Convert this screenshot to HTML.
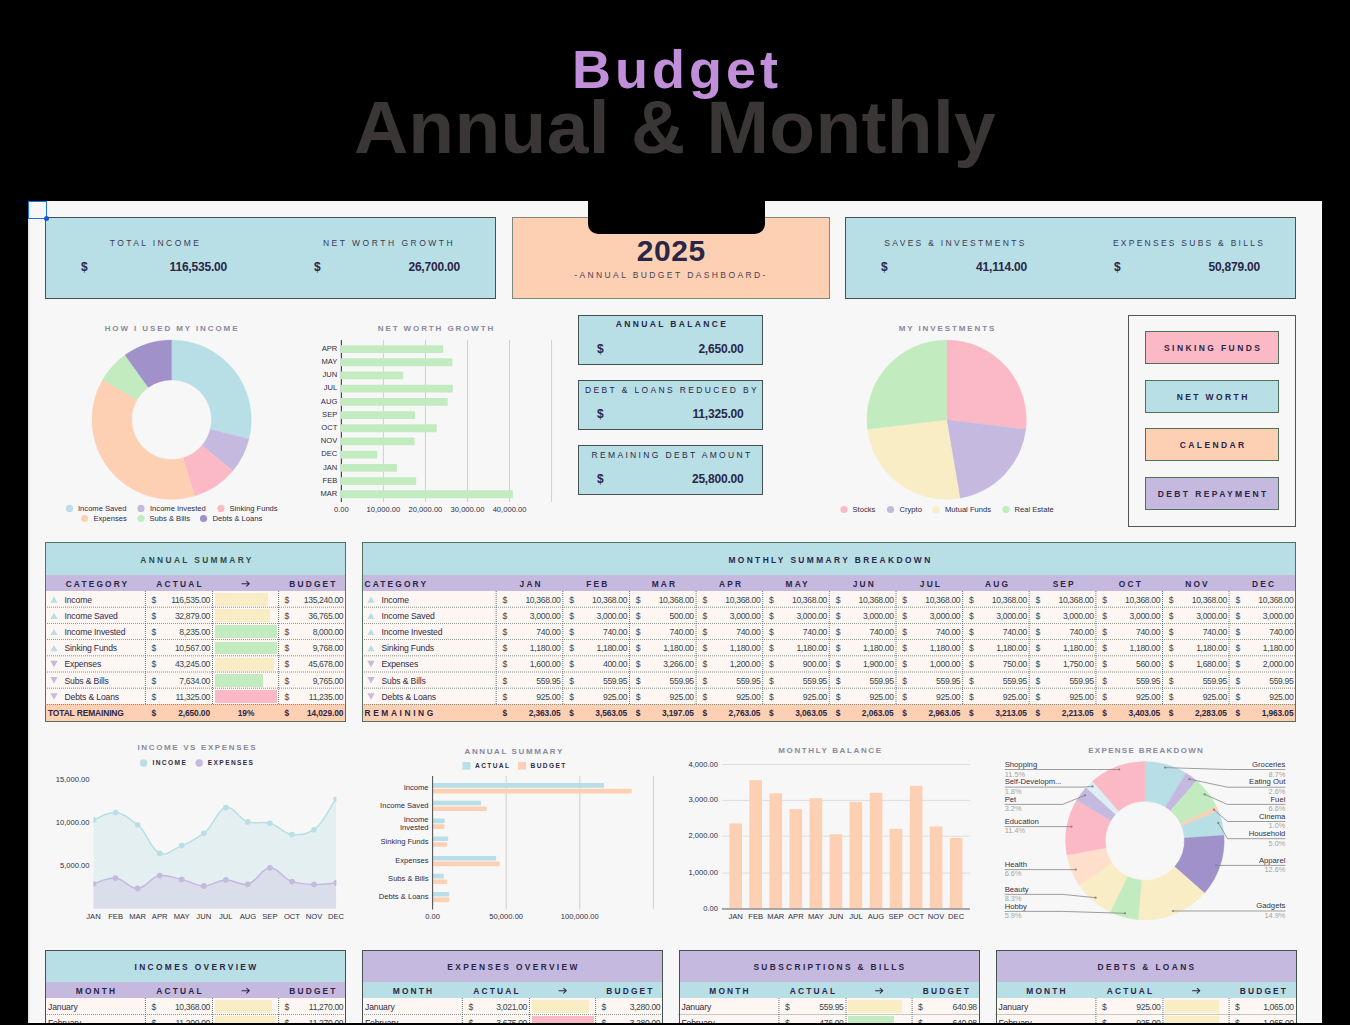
<!DOCTYPE html>
<html><head><meta charset="utf-8"><title>Budget Annual &amp; Monthly</title>
<style>
html,body{margin:0;padding:0;background:#000;}
body{width:1350px;height:1025px;position:relative;overflow:hidden;font-family:"Liberation Sans",sans-serif;}
div{position:absolute;box-sizing:border-box;}
.t{white-space:nowrap;color:#2b2646;}
.c{text-align:center;}
.r{text-align:right;}
svg{position:absolute;left:0;top:0;overflow:visible;}
</style></head>
<body>
<div class="t c" style="left:-23px;width:1400px;top:36px;font-size:54px;font-weight:bold;color:#c18ed9;line-height:66px;letter-spacing:4px">Budget</div>
<div class="t c" style="left:-25px;width:1400px;top:81.5px;font-size:75px;font-weight:bold;color:#3a3635;line-height:90px;letter-spacing:0.3px">Annual &amp; Monthly</div>
<div class="" style="left:28px;top:201px;width:1294px;height:822px;background:#f7f7f7;border-right:1px solid #fff;border-bottom:1px solid #fff;"></div>
<div class="" style="left:28px;top:201px;width:1px;height:822px;background:#e1e7e1;"></div>
<div class="" style="left:29px;top:201px;width:1px;height:822px;background:#ececec;"></div>
<div class="" style="left:45px;top:217px;width:451px;height:82px;border:1px solid #46504e;box-sizing:border-box;background:#b8dfe6;"></div>
<div class="" style="left:512px;top:217px;width:318px;height:82px;border:1px solid #46504e;box-sizing:border-box;background:#fdd0b3;border-color:#7d8a7c;"></div>
<div class="" style="left:845px;top:217px;width:451px;height:82px;border:1px solid #46504e;box-sizing:border-box;background:#b8dfe6;"></div>
<div class="" style="left:588px;top:195px;width:177px;height:39px;background:#000;border-radius:0 0 10px 10px;"></div>
<div class="t c" style="left:-544.5px;width:1400px;top:236.5px;font-size:8.5px;letter-spacing:2.6px;color:#3a3a55;line-height:12px;letter-spacing:2.4px;">TOTAL INCOME</div>
<div class="t c" style="left:-311px;width:1400px;top:236.5px;font-size:8.5px;letter-spacing:2.6px;color:#3a3a55;line-height:12px;letter-spacing:2.5px;">NET WORTH GROWTH</div>
<div class="t c" style="left:255.5px;width:1400px;top:236.5px;font-size:8.5px;letter-spacing:2.6px;color:#3a3a55;line-height:12px;letter-spacing:2.3px;">SAVES &amp; INVESTMENTS</div>
<div class="t c" style="left:489px;width:1400px;top:236.5px;font-size:8.5px;letter-spacing:2.6px;color:#3a3a55;line-height:12px;letter-spacing:2.25px;">EXPENSES SUBS &amp; BILLS</div>
<div class="t" style="left:81px;top:259px;font-size:12px;font-weight:bold;letter-spacing:-0.2px;color:#2b2646;line-height:16px;">$</div>
<div class="t r" style="left:27px;width:200px;top:259px;font-size:12px;font-weight:bold;letter-spacing:-0.2px;color:#2b2646;line-height:16px;">116,535.00</div>
<div class="t" style="left:314px;top:259px;font-size:12px;font-weight:bold;letter-spacing:-0.2px;color:#2b2646;line-height:16px;">$</div>
<div class="t r" style="left:260px;width:200px;top:259px;font-size:12px;font-weight:bold;letter-spacing:-0.2px;color:#2b2646;line-height:16px;">26,700.00</div>
<div class="t" style="left:881px;top:259px;font-size:12px;font-weight:bold;letter-spacing:-0.2px;color:#2b2646;line-height:16px;">$</div>
<div class="t r" style="left:827px;width:200px;top:259px;font-size:12px;font-weight:bold;letter-spacing:-0.2px;color:#2b2646;line-height:16px;">41,114.00</div>
<div class="t" style="left:1114px;top:259px;font-size:12px;font-weight:bold;letter-spacing:-0.2px;color:#2b2646;line-height:16px;">$</div>
<div class="t r" style="left:1060px;width:200px;top:259px;font-size:12px;font-weight:bold;letter-spacing:-0.2px;color:#2b2646;line-height:16px;">50,879.00</div>
<div class="t c" style="left:-28.700000000000045px;width:1400px;top:233px;font-size:30px;font-weight:bold;color:#2b2646;line-height:36px;letter-spacing:0.6px;">2025</div>
<div class="t c" style="left:-29px;width:1400px;top:269px;font-size:8.5px;letter-spacing:2.4px;color:#4a3f55;line-height:12px;">-ANNUAL BUDGET DASHBOARD-</div>
<div class="" style="left:28px;top:201px;width:18.5px;height:17.5px;border:1px solid #1a73e8;box-sizing:border-box;"></div>
<div class="" style="left:43.5px;top:215.5px;width:5px;height:5px;background:#1a56d6;border-radius:50%;"></div>
<div class="t c" style="left:-528px;width:1400px;top:324px;font-size:8px;font-weight:bold;letter-spacing:1.9px;color:#8b889c;line-height:10px;">HOW I USED MY INCOME</div>
<svg width="1350" height="1025"><path d="M171.60,340.00A79.7,79.7 0 0 1 248.95,438.89L210.23,429.28A39.8,39.8 0 0 0 171.60,379.90Z" fill="#b8dfe6" stroke="#b8dfe6" stroke-width="0.35"/><path d="M248.95,438.89A79.7,79.7 0 0 1 232.69,470.89L202.10,445.26A39.8,39.8 0 0 0 210.23,429.28Z" fill="#c5b9df" stroke="#c5b9df" stroke-width="0.35"/><path d="M232.69,470.89A79.7,79.7 0 0 1 194.41,496.07L182.99,457.83A39.8,39.8 0 0 0 202.10,445.26Z" fill="#fbb9c6" stroke="#fbb9c6" stroke-width="0.35"/><path d="M194.41,496.07A79.7,79.7 0 0 1 102.63,379.77L137.16,399.76A39.8,39.8 0 0 0 182.99,457.83Z" fill="#fdd0b3" stroke="#fdd0b3" stroke-width="0.35"/><path d="M102.63,379.77A79.7,79.7 0 0 1 124.98,355.06L148.32,387.42A39.8,39.8 0 0 0 137.16,399.76Z" fill="#c3ebc0" stroke="#c3ebc0" stroke-width="0.35"/><path d="M124.98,355.06A79.7,79.7 0 0 1 171.60,340.00L171.60,379.90A39.8,39.8 0 0 0 148.32,387.42Z" fill="#a091cb" stroke="#a091cb" stroke-width="0.35"/><circle cx="69.5" cy="508.4" r="3.6" fill="#b8dfe6"/><circle cx="141" cy="508.4" r="3.6" fill="#c5b9df"/><circle cx="221" cy="508.4" r="3.6" fill="#fbb9c6"/><circle cx="84.5" cy="518.5" r="3.6" fill="#fdd0b3"/><circle cx="141" cy="518.5" r="3.6" fill="#c3ebc0"/><circle cx="203.5" cy="518.5" r="3.6" fill="#a091cb"/><rect x="382.93" y="340" width="1" height="162" fill="#d0d0d0"/><rect x="424.96" y="340" width="1" height="162" fill="#d0d0d0"/><rect x="466.99" y="340" width="1" height="162" fill="#d0d0d0"/><rect x="509.02" y="340" width="1" height="162" fill="#d0d0d0"/><rect x="551.05" y="340" width="1" height="162" fill="#d0d0d0"/><rect x="340.79999999999995" y="340" width="1.2" height="162" fill="#4a4a4a"/><rect x="340.70" y="345.15" width="102.4" height="7.8" rx="0.6" fill="#c3ebc0"/><rect x="340.70" y="358.35" width="111.7" height="7.8" rx="0.6" fill="#c3ebc0"/><rect x="340.70" y="371.55" width="62.5" height="7.8" rx="0.6" fill="#c3ebc0"/><rect x="340.70" y="384.75" width="112.1" height="7.8" rx="0.6" fill="#c3ebc0"/><rect x="340.70" y="397.95" width="107.0" height="7.8" rx="0.6" fill="#c3ebc0"/><rect x="340.70" y="411.15" width="74.3" height="7.8" rx="0.6" fill="#c3ebc0"/><rect x="340.70" y="424.35" width="96.1" height="7.8" rx="0.6" fill="#c3ebc0"/><rect x="340.70" y="437.55" width="73.8" height="7.8" rx="0.6" fill="#c3ebc0"/><rect x="340.70" y="450.75" width="36.4" height="7.8" rx="0.6" fill="#c3ebc0"/><rect x="340.70" y="463.95" width="56.2" height="7.8" rx="0.6" fill="#c3ebc0"/><rect x="340.70" y="477.15" width="75.5" height="7.8" rx="0.6" fill="#c3ebc0"/><rect x="340.70" y="490.35" width="172.2" height="7.8" rx="0.6" fill="#c3ebc0"/><path d="M946.60,419.70L946.60,340.00A79.7,79.7 0 0 1 1025.71,429.34Z" fill="#fbb9c6" stroke="#fbb9c6" stroke-width="0.35"/><path d="M946.60,419.70L1025.71,429.34A79.7,79.7 0 0 1 959.91,498.28Z" fill="#c5b9df" stroke="#c5b9df" stroke-width="0.35"/><path d="M946.60,419.70L959.91,498.28A79.7,79.7 0 0 1 867.48,429.29Z" fill="#f9edc6" stroke="#f9edc6" stroke-width="0.35"/><path d="M946.60,419.70L867.48,429.29A79.7,79.7 0 0 1 946.60,340.00Z" fill="#c3ebc0" stroke="#c3ebc0" stroke-width="0.35"/><circle cx="844" cy="509.5" r="3.6" fill="#fbb9c6"/><circle cx="890.5" cy="509.5" r="3.6" fill="#c5b9df"/><circle cx="936" cy="509.5" r="3.6" fill="#f9edc6"/><circle cx="1006" cy="509.5" r="3.6" fill="#c3ebc0"/></svg>
<div class="t" style="left:78px;top:503.5px;font-size:7.6px;color:#2f2b45;line-height:10px;">Income Saved</div>
<div class="t" style="left:150px;top:503.5px;font-size:7.6px;color:#2f2b45;line-height:10px;">Income Invested</div>
<div class="t" style="left:229.5px;top:503.5px;font-size:7.6px;color:#2f2b45;line-height:10px;">Sinking Funds</div>
<div class="t" style="left:93.5px;top:513.5px;font-size:7.6px;color:#2f2b45;line-height:10px;">Expenses</div>
<div class="t" style="left:149.5px;top:513.5px;font-size:7.6px;color:#2f2b45;line-height:10px;">Subs &amp; Bills</div>
<div class="t" style="left:212.5px;top:513.5px;font-size:7.6px;color:#2f2b45;line-height:10px;">Debts &amp; Loans</div>
<div class="t c" style="left:-263.5px;width:1400px;top:324px;font-size:8px;font-weight:bold;letter-spacing:1.9px;color:#8b889c;line-height:10px;">NET WORTH GROWTH</div>
<div class="t r" style="left:137.3px;width:200px;top:343.7px;font-size:7.6px;color:#2f2b45;line-height:10px;">APR</div>
<div class="t r" style="left:137.3px;width:200px;top:356.9px;font-size:7.6px;color:#2f2b45;line-height:10px;">MAY</div>
<div class="t r" style="left:137.3px;width:200px;top:370.09999999999997px;font-size:7.6px;color:#2f2b45;line-height:10px;">JUN</div>
<div class="t r" style="left:137.3px;width:200px;top:383.29999999999995px;font-size:7.6px;color:#2f2b45;line-height:10px;">JUL</div>
<div class="t r" style="left:137.3px;width:200px;top:396.5px;font-size:7.6px;color:#2f2b45;line-height:10px;">AUG</div>
<div class="t r" style="left:137.3px;width:200px;top:409.7px;font-size:7.6px;color:#2f2b45;line-height:10px;">SEP</div>
<div class="t r" style="left:137.3px;width:200px;top:422.9px;font-size:7.6px;color:#2f2b45;line-height:10px;">OCT</div>
<div class="t r" style="left:137.3px;width:200px;top:436.09999999999997px;font-size:7.6px;color:#2f2b45;line-height:10px;">NOV</div>
<div class="t r" style="left:137.3px;width:200px;top:449.29999999999995px;font-size:7.6px;color:#2f2b45;line-height:10px;">DEC</div>
<div class="t r" style="left:137.3px;width:200px;top:462.5px;font-size:7.6px;color:#2f2b45;line-height:10px;">JAN</div>
<div class="t r" style="left:137.3px;width:200px;top:475.7px;font-size:7.6px;color:#2f2b45;line-height:10px;">FEB</div>
<div class="t r" style="left:137.3px;width:200px;top:488.9px;font-size:7.6px;color:#2f2b45;line-height:10px;">MAR</div>
<div class="t c" style="left:-358.6px;width:1400px;top:505.1px;font-size:7.6px;color:#2f2b45;line-height:10px;">0.00</div>
<div class="t c" style="left:-316.57000000000005px;width:1400px;top:505.1px;font-size:7.6px;color:#2f2b45;line-height:10px;">10,000.00</div>
<div class="t c" style="left:-274.54px;width:1400px;top:505.1px;font-size:7.6px;color:#2f2b45;line-height:10px;">20,000.00</div>
<div class="t c" style="left:-232.51px;width:1400px;top:505.1px;font-size:7.6px;color:#2f2b45;line-height:10px;">30,000.00</div>
<div class="t c" style="left:-190.48000000000002px;width:1400px;top:505.1px;font-size:7.6px;color:#2f2b45;line-height:10px;">40,000.00</div>
<div class="" style="left:578px;top:314.5px;width:185px;height:50px;border:1px solid #46504e;background:#b8dfe6;"></div>
<div class="t c" style="left:-28px;width:1400px;top:317.5px;font-size:8.5px;letter-spacing:2.35px;color:#2b2646;line-height:12px;font-weight:bold;">ANNUAL BALANCE</div>
<div class="t" style="left:597px;top:340.5px;font-size:12px;font-weight:bold;color:#2b2646;line-height:16px;letter-spacing:-0.2px;">$</div>
<div class="t r" style="left:543.5px;width:200px;top:340.5px;font-size:12px;font-weight:bold;color:#2b2646;line-height:16px;letter-spacing:-0.2px;">2,650.00</div>
<div class="" style="left:578px;top:379.5px;width:185px;height:50px;border:1px solid #46504e;background:#b8dfe6;"></div>
<div class="t c" style="left:-28px;width:1400px;top:383.9px;font-size:8.5px;letter-spacing:2.35px;color:#2b2646;line-height:12px;">DEBT &amp; LOANS REDUCED BY</div>
<div class="t" style="left:597px;top:405.5px;font-size:12px;font-weight:bold;color:#2b2646;line-height:16px;letter-spacing:-0.2px;">$</div>
<div class="t r" style="left:543.5px;width:200px;top:405.5px;font-size:12px;font-weight:bold;color:#2b2646;line-height:16px;letter-spacing:-0.2px;">11,325.00</div>
<div class="" style="left:578px;top:444.5px;width:185px;height:50px;border:1px solid #46504e;background:#b8dfe6;"></div>
<div class="t c" style="left:-28px;width:1400px;top:448.9px;font-size:8.5px;letter-spacing:2.35px;color:#2b2646;line-height:12px;">REMAINING DEBT AMOUNT</div>
<div class="t" style="left:597px;top:470.5px;font-size:12px;font-weight:bold;color:#2b2646;line-height:16px;letter-spacing:-0.2px;">$</div>
<div class="t r" style="left:543.5px;width:200px;top:470.5px;font-size:12px;font-weight:bold;color:#2b2646;line-height:16px;letter-spacing:-0.2px;">25,800.00</div>
<div class="t c" style="left:247.5px;width:1400px;top:324px;font-size:8px;font-weight:bold;letter-spacing:1.9px;color:#8b889c;line-height:10px;">MY INVESTMENTS</div>
<div class="t" style="left:852.5px;top:504.5px;font-size:7.6px;color:#2f2b45;line-height:10px;">Stocks</div>
<div class="t" style="left:899.5px;top:504.5px;font-size:7.6px;color:#2f2b45;line-height:10px;">Crypto</div>
<div class="t" style="left:945px;top:504.5px;font-size:7.6px;color:#2f2b45;line-height:10px;">Mutual Funds</div>
<div class="t" style="left:1014.5px;top:504.5px;font-size:7.6px;color:#2f2b45;line-height:10px;">Real Estate</div>
<div class="" style="left:1128px;top:314.5px;width:168px;height:212px;border:1px solid #555;"></div>
<div class="" style="left:1145px;top:331px;width:134px;height:33px;border:1px solid #4e7158;background:#fbb9c6;"></div>
<div class="t c" style="left:513.2px;width:1400px;top:341.5px;font-size:8.5px;font-weight:bold;letter-spacing:2.4px;color:#2b2646;line-height:12px;">SINKING FUNDS</div>
<div class="" style="left:1145px;top:380px;width:134px;height:33px;border:1px solid #4e7158;background:#b8dfe6;"></div>
<div class="t c" style="left:513.2px;width:1400px;top:390.5px;font-size:8.5px;font-weight:bold;letter-spacing:2.4px;color:#2b2646;line-height:12px;">NET WORTH</div>
<div class="" style="left:1145px;top:428px;width:134px;height:33px;border:1px solid #4e7158;background:#fdd0b3;"></div>
<div class="t c" style="left:513.2px;width:1400px;top:438.5px;font-size:8.5px;font-weight:bold;letter-spacing:2.4px;color:#2b2646;line-height:12px;">CALENDAR</div>
<div class="" style="left:1145px;top:477px;width:134px;height:33px;border:1px solid #4e7158;background:#c5b9df;"></div>
<div class="t c" style="left:513.2px;width:1400px;top:487.5px;font-size:8.5px;font-weight:bold;letter-spacing:2.4px;color:#2b2646;line-height:12px;">DEBT REPAYMENT</div>
<div class="" style="left:45px;top:542px;width:301px;height:180px;background:#fdf6f2;"></div>
<div class="" style="left:45px;top:542px;width:301px;height:33px;background:#b8dfe6;"></div>
<div class="" style="left:45px;top:575px;width:301px;height:16px;background:#c5b9df;"></div>
<div class="" style="left:45px;top:704.4px;width:301px;height:17.600000000000023px;background:#fdd0b3;"></div>
<div class="t c" style="left:-503px;width:1400px;top:553.5px;font-size:8.4px;font-weight:bold;letter-spacing:2.35px;color:#2f4a44;line-height:12px;">ANNUAL SUMMARY</div>
<div class="t c" style="left:-602.5px;width:1400px;top:577.5px;font-size:8.4px;font-weight:bold;letter-spacing:2.15px;color:#2b2646;line-height:12px;">CATEGORY</div>
<div class="t c" style="left:-520px;width:1400px;top:577.5px;font-size:8.4px;font-weight:bold;letter-spacing:2.15px;color:#2b2646;line-height:12px;">ACTUAL</div>
<div class="t c" style="left:-386.5px;width:1400px;top:577.5px;font-size:8.4px;font-weight:bold;letter-spacing:2.15px;color:#2b2646;line-height:12px;">BUDGET</div>
<div class="t" style="left:64.5px;top:593.6px;font-size:8.6px;color:#2f2c48;line-height:12px;letter-spacing:-0.15px;">Income</div>
<div class="t" style="left:151.5px;top:593.6px;font-size:8.6px;color:#35484a;line-height:12px;letter-spacing:-0.35px;">$</div>
<div class="t r" style="left:10px;width:200px;top:593.6px;font-size:8.6px;color:#35484a;line-height:12px;letter-spacing:-0.35px;">116,535.00</div>
<div class="" style="left:214.6px;top:593.0px;width:53.75px;height:12.799999999999999px;background:#f9edc6;"></div>
<div class="t" style="left:284.5px;top:593.6px;font-size:8.6px;color:#35484a;line-height:12px;letter-spacing:-0.35px;">$</div>
<div class="t r" style="left:143.3px;width:200px;top:593.6px;font-size:8.6px;color:#35484a;line-height:12px;letter-spacing:-0.35px;">135,240.00</div>
<div class="t" style="left:64.5px;top:609.8000000000001px;font-size:8.6px;color:#2f2c48;line-height:12px;letter-spacing:-0.15px;">Income Saved</div>
<div class="t" style="left:151.5px;top:609.8000000000001px;font-size:8.6px;color:#35484a;line-height:12px;letter-spacing:-0.35px;">$</div>
<div class="t r" style="left:10px;width:200px;top:609.8000000000001px;font-size:8.6px;color:#35484a;line-height:12px;letter-spacing:-0.35px;">32,879.00</div>
<div class="" style="left:214.6px;top:609.2px;width:55.625px;height:12.799999999999999px;background:#f9edc6;"></div>
<div class="t" style="left:284.5px;top:609.8000000000001px;font-size:8.6px;color:#35484a;line-height:12px;letter-spacing:-0.35px;">$</div>
<div class="t r" style="left:143.3px;width:200px;top:609.8000000000001px;font-size:8.6px;color:#35484a;line-height:12px;letter-spacing:-0.35px;">36,765.00</div>
<div class="t" style="left:64.5px;top:626.0px;font-size:8.6px;color:#2f2c48;line-height:12px;letter-spacing:-0.15px;">Income Invested</div>
<div class="t" style="left:151.5px;top:626.0px;font-size:8.6px;color:#35484a;line-height:12px;letter-spacing:-0.35px;">$</div>
<div class="t r" style="left:10px;width:200px;top:626.0px;font-size:8.6px;color:#35484a;line-height:12px;letter-spacing:-0.35px;">8,235.00</div>
<div class="" style="left:214.6px;top:625.4px;width:62.5px;height:12.799999999999999px;background:#c3ebc0;"></div>
<div class="t" style="left:284.5px;top:626.0px;font-size:8.6px;color:#35484a;line-height:12px;letter-spacing:-0.35px;">$</div>
<div class="t r" style="left:143.3px;width:200px;top:626.0px;font-size:8.6px;color:#35484a;line-height:12px;letter-spacing:-0.35px;">8,000.00</div>
<div class="t" style="left:64.5px;top:642.2px;font-size:8.6px;color:#2f2c48;line-height:12px;letter-spacing:-0.15px;">Sinking Funds</div>
<div class="t" style="left:151.5px;top:642.2px;font-size:8.6px;color:#35484a;line-height:12px;letter-spacing:-0.35px;">$</div>
<div class="t r" style="left:10px;width:200px;top:642.2px;font-size:8.6px;color:#35484a;line-height:12px;letter-spacing:-0.35px;">10,567.00</div>
<div class="" style="left:214.6px;top:641.6px;width:62.5px;height:12.799999999999999px;background:#c3ebc0;"></div>
<div class="t" style="left:284.5px;top:642.2px;font-size:8.6px;color:#35484a;line-height:12px;letter-spacing:-0.35px;">$</div>
<div class="t r" style="left:143.3px;width:200px;top:642.2px;font-size:8.6px;color:#35484a;line-height:12px;letter-spacing:-0.35px;">9,768.00</div>
<div class="t" style="left:64.5px;top:658.4px;font-size:8.6px;color:#2f2c48;line-height:12px;letter-spacing:-0.15px;">Expenses</div>
<div class="t" style="left:151.5px;top:658.4px;font-size:8.6px;color:#35484a;line-height:12px;letter-spacing:-0.35px;">$</div>
<div class="t r" style="left:10px;width:200px;top:658.4px;font-size:8.6px;color:#35484a;line-height:12px;letter-spacing:-0.35px;">43,245.00</div>
<div class="" style="left:214.6px;top:657.8px;width:59.0625px;height:12.799999999999999px;background:#f9edc6;"></div>
<div class="t" style="left:284.5px;top:658.4px;font-size:8.6px;color:#35484a;line-height:12px;letter-spacing:-0.35px;">$</div>
<div class="t r" style="left:143.3px;width:200px;top:658.4px;font-size:8.6px;color:#35484a;line-height:12px;letter-spacing:-0.35px;">45,678.00</div>
<div class="t" style="left:64.5px;top:674.6px;font-size:8.6px;color:#2f2c48;line-height:12px;letter-spacing:-0.15px;">Subs &amp; Bills</div>
<div class="t" style="left:151.5px;top:674.6px;font-size:8.6px;color:#35484a;line-height:12px;letter-spacing:-0.35px;">$</div>
<div class="t r" style="left:10px;width:200px;top:674.6px;font-size:8.6px;color:#35484a;line-height:12px;letter-spacing:-0.35px;">7,634.00</div>
<div class="" style="left:214.6px;top:674.0px;width:48.4375px;height:12.799999999999999px;background:#c3ebc0;"></div>
<div class="t" style="left:284.5px;top:674.6px;font-size:8.6px;color:#35484a;line-height:12px;letter-spacing:-0.35px;">$</div>
<div class="t r" style="left:143.3px;width:200px;top:674.6px;font-size:8.6px;color:#35484a;line-height:12px;letter-spacing:-0.35px;">9,765.00</div>
<div class="t" style="left:64.5px;top:690.8000000000001px;font-size:8.6px;color:#2f2c48;line-height:12px;letter-spacing:-0.15px;">Debts &amp; Loans</div>
<div class="t" style="left:151.5px;top:690.8000000000001px;font-size:8.6px;color:#35484a;line-height:12px;letter-spacing:-0.35px;">$</div>
<div class="t r" style="left:10px;width:200px;top:690.8000000000001px;font-size:8.6px;color:#35484a;line-height:12px;letter-spacing:-0.35px;">11,325.00</div>
<div class="" style="left:214.6px;top:690.2px;width:62.5px;height:12.799999999999999px;background:#fbb9c6;"></div>
<div class="t" style="left:284.5px;top:690.8000000000001px;font-size:8.6px;color:#35484a;line-height:12px;letter-spacing:-0.35px;">$</div>
<div class="t r" style="left:143.3px;width:200px;top:690.8000000000001px;font-size:8.6px;color:#35484a;line-height:12px;letter-spacing:-0.35px;">11,235.00</div>
<div class="t" style="left:48px;top:706.6999999999999px;font-size:8.4px;font-weight:bold;color:#2b2646;line-height:12px;letter-spacing:-0.1px;">TOTAL REMAINING</div>
<div class="t" style="left:151.5px;top:706.6999999999999px;font-size:8.4px;font-weight:bold;color:#2b2646;line-height:12px;letter-spacing:-0.1px;">$</div>
<div class="t r" style="left:10px;width:200px;top:706.6999999999999px;font-size:8.4px;font-weight:bold;color:#2b2646;line-height:12px;letter-spacing:-0.1px;">2,650.00</div>
<div class="t c" style="left:-454px;width:1400px;top:706.6999999999999px;font-size:8.4px;font-weight:bold;color:#2b2646;line-height:12px;letter-spacing:-0.1px;">19%</div>
<div class="t" style="left:284.5px;top:706.6999999999999px;font-size:8.4px;font-weight:bold;color:#2b2646;line-height:12px;letter-spacing:-0.1px;">$</div>
<div class="t r" style="left:143.3px;width:200px;top:706.6999999999999px;font-size:8.4px;font-weight:bold;color:#2b2646;line-height:12px;letter-spacing:-0.1px;">14,029.00</div>
<div class="" style="left:362px;top:542px;width:934px;height:180px;background:#fdf6f2;"></div>
<div class="" style="left:362px;top:542px;width:934px;height:33px;background:#b8dfe6;"></div>
<div class="" style="left:362px;top:575px;width:934px;height:16px;background:#c5b9df;"></div>
<div class="" style="left:362px;top:704.4px;width:934px;height:17.600000000000023px;background:#fdd0b3;"></div>
<div class="t c" style="left:130.5px;width:1400px;top:553.5px;font-size:8.4px;font-weight:bold;letter-spacing:2.15px;color:#2b2646;line-height:12px;letter-spacing:2.4px;">MONTHLY SUMMARY BREAKDOWN</div>
<div class="t" style="left:364.5px;top:577.5px;font-size:8.4px;font-weight:bold;letter-spacing:2.15px;color:#2b2646;line-height:12px;">CATEGORY</div>
<div class="t c" style="left:-168.79999999999995px;width:1400px;top:577.5px;font-size:8.4px;font-weight:bold;letter-spacing:2.15px;color:#2b2646;line-height:12px;">JAN</div>
<div class="t c" style="left:-102.17000000000007px;width:1400px;top:577.5px;font-size:8.4px;font-weight:bold;letter-spacing:2.15px;color:#2b2646;line-height:12px;">FEB</div>
<div class="t c" style="left:-35.539999999999964px;width:1400px;top:577.5px;font-size:8.4px;font-weight:bold;letter-spacing:2.15px;color:#2b2646;line-height:12px;">MAR</div>
<div class="t c" style="left:31.089999999999918px;width:1400px;top:577.5px;font-size:8.4px;font-weight:bold;letter-spacing:2.15px;color:#2b2646;line-height:12px;">APR</div>
<div class="t c" style="left:97.72000000000003px;width:1400px;top:577.5px;font-size:8.4px;font-weight:bold;letter-spacing:2.15px;color:#2b2646;line-height:12px;">MAY</div>
<div class="t c" style="left:164.3499999999999px;width:1400px;top:577.5px;font-size:8.4px;font-weight:bold;letter-spacing:2.15px;color:#2b2646;line-height:12px;">JUN</div>
<div class="t c" style="left:230.98000000000002px;width:1400px;top:577.5px;font-size:8.4px;font-weight:bold;letter-spacing:2.15px;color:#2b2646;line-height:12px;">JUL</div>
<div class="t c" style="left:297.6099999999999px;width:1400px;top:577.5px;font-size:8.4px;font-weight:bold;letter-spacing:2.15px;color:#2b2646;line-height:12px;">AUG</div>
<div class="t c" style="left:364.24px;width:1400px;top:577.5px;font-size:8.4px;font-weight:bold;letter-spacing:2.15px;color:#2b2646;line-height:12px;">SEP</div>
<div class="t c" style="left:430.8699999999999px;width:1400px;top:577.5px;font-size:8.4px;font-weight:bold;letter-spacing:2.15px;color:#2b2646;line-height:12px;">OCT</div>
<div class="t c" style="left:497.5px;width:1400px;top:577.5px;font-size:8.4px;font-weight:bold;letter-spacing:2.15px;color:#2b2646;line-height:12px;">NOV</div>
<div class="t c" style="left:564.1299999999999px;width:1400px;top:577.5px;font-size:8.4px;font-weight:bold;letter-spacing:2.15px;color:#2b2646;line-height:12px;">DEC</div>
<div class="t" style="left:381.5px;top:593.6px;font-size:8.6px;color:#2f2c48;line-height:12px;letter-spacing:-0.15px;">Income</div>
<div class="t" style="left:502.5px;top:593.6px;font-size:8.6px;color:#35484a;line-height:12px;letter-spacing:-0.35px;">$</div>
<div class="t r" style="left:360.53px;width:200px;top:593.6px;font-size:8.6px;color:#35484a;line-height:12px;letter-spacing:-0.35px;">10,368.00</div>
<div class="t" style="left:569.1299999999999px;top:593.6px;font-size:8.6px;color:#35484a;line-height:12px;letter-spacing:-0.35px;">$</div>
<div class="t r" style="left:427.15999999999997px;width:200px;top:593.6px;font-size:8.6px;color:#35484a;line-height:12px;letter-spacing:-0.35px;">10,368.00</div>
<div class="t" style="left:635.76px;top:593.6px;font-size:8.6px;color:#35484a;line-height:12px;letter-spacing:-0.35px;">$</div>
<div class="t r" style="left:493.7900000000001px;width:200px;top:593.6px;font-size:8.6px;color:#35484a;line-height:12px;letter-spacing:-0.35px;">10,368.00</div>
<div class="t" style="left:702.3899999999999px;top:593.6px;font-size:8.6px;color:#35484a;line-height:12px;letter-spacing:-0.35px;">$</div>
<div class="t r" style="left:560.42px;width:200px;top:593.6px;font-size:8.6px;color:#35484a;line-height:12px;letter-spacing:-0.35px;">10,368.00</div>
<div class="t" style="left:769.02px;top:593.6px;font-size:8.6px;color:#35484a;line-height:12px;letter-spacing:-0.35px;">$</div>
<div class="t r" style="left:627.0500000000001px;width:200px;top:593.6px;font-size:8.6px;color:#35484a;line-height:12px;letter-spacing:-0.35px;">10,368.00</div>
<div class="t" style="left:835.6499999999999px;top:593.6px;font-size:8.6px;color:#35484a;line-height:12px;letter-spacing:-0.35px;">$</div>
<div class="t r" style="left:693.68px;width:200px;top:593.6px;font-size:8.6px;color:#35484a;line-height:12px;letter-spacing:-0.35px;">10,368.00</div>
<div class="t" style="left:902.28px;top:593.6px;font-size:8.6px;color:#35484a;line-height:12px;letter-spacing:-0.35px;">$</div>
<div class="t r" style="left:760.3100000000001px;width:200px;top:593.6px;font-size:8.6px;color:#35484a;line-height:12px;letter-spacing:-0.35px;">10,368.00</div>
<div class="t" style="left:968.9099999999999px;top:593.6px;font-size:8.6px;color:#35484a;line-height:12px;letter-spacing:-0.35px;">$</div>
<div class="t r" style="left:826.9399999999998px;width:200px;top:593.6px;font-size:8.6px;color:#35484a;line-height:12px;letter-spacing:-0.35px;">10,368.00</div>
<div class="t" style="left:1035.54px;top:593.6px;font-size:8.6px;color:#35484a;line-height:12px;letter-spacing:-0.35px;">$</div>
<div class="t r" style="left:893.5699999999999px;width:200px;top:593.6px;font-size:8.6px;color:#35484a;line-height:12px;letter-spacing:-0.35px;">10,368.00</div>
<div class="t" style="left:1102.1699999999998px;top:593.6px;font-size:8.6px;color:#35484a;line-height:12px;letter-spacing:-0.35px;">$</div>
<div class="t r" style="left:960.2px;width:200px;top:593.6px;font-size:8.6px;color:#35484a;line-height:12px;letter-spacing:-0.35px;">10,368.00</div>
<div class="t" style="left:1168.8px;top:593.6px;font-size:8.6px;color:#35484a;line-height:12px;letter-spacing:-0.35px;">$</div>
<div class="t r" style="left:1026.8300000000002px;width:200px;top:593.6px;font-size:8.6px;color:#35484a;line-height:12px;letter-spacing:-0.35px;">10,368.00</div>
<div class="t" style="left:1235.4299999999998px;top:593.6px;font-size:8.6px;color:#35484a;line-height:12px;letter-spacing:-0.35px;">$</div>
<div class="t r" style="left:1093.4599999999998px;width:200px;top:593.6px;font-size:8.6px;color:#35484a;line-height:12px;letter-spacing:-0.35px;">10,368.00</div>
<div class="t" style="left:381.5px;top:609.8000000000001px;font-size:8.6px;color:#2f2c48;line-height:12px;letter-spacing:-0.15px;">Income Saved</div>
<div class="t" style="left:502.5px;top:609.8000000000001px;font-size:8.6px;color:#35484a;line-height:12px;letter-spacing:-0.35px;">$</div>
<div class="t r" style="left:360.53px;width:200px;top:609.8000000000001px;font-size:8.6px;color:#35484a;line-height:12px;letter-spacing:-0.35px;">3,000.00</div>
<div class="t" style="left:569.1299999999999px;top:609.8000000000001px;font-size:8.6px;color:#35484a;line-height:12px;letter-spacing:-0.35px;">$</div>
<div class="t r" style="left:427.15999999999997px;width:200px;top:609.8000000000001px;font-size:8.6px;color:#35484a;line-height:12px;letter-spacing:-0.35px;">3,000.00</div>
<div class="t" style="left:635.76px;top:609.8000000000001px;font-size:8.6px;color:#35484a;line-height:12px;letter-spacing:-0.35px;">$</div>
<div class="t r" style="left:493.7900000000001px;width:200px;top:609.8000000000001px;font-size:8.6px;color:#35484a;line-height:12px;letter-spacing:-0.35px;">500.00</div>
<div class="t" style="left:702.3899999999999px;top:609.8000000000001px;font-size:8.6px;color:#35484a;line-height:12px;letter-spacing:-0.35px;">$</div>
<div class="t r" style="left:560.42px;width:200px;top:609.8000000000001px;font-size:8.6px;color:#35484a;line-height:12px;letter-spacing:-0.35px;">3,000.00</div>
<div class="t" style="left:769.02px;top:609.8000000000001px;font-size:8.6px;color:#35484a;line-height:12px;letter-spacing:-0.35px;">$</div>
<div class="t r" style="left:627.0500000000001px;width:200px;top:609.8000000000001px;font-size:8.6px;color:#35484a;line-height:12px;letter-spacing:-0.35px;">3,000.00</div>
<div class="t" style="left:835.6499999999999px;top:609.8000000000001px;font-size:8.6px;color:#35484a;line-height:12px;letter-spacing:-0.35px;">$</div>
<div class="t r" style="left:693.68px;width:200px;top:609.8000000000001px;font-size:8.6px;color:#35484a;line-height:12px;letter-spacing:-0.35px;">3,000.00</div>
<div class="t" style="left:902.28px;top:609.8000000000001px;font-size:8.6px;color:#35484a;line-height:12px;letter-spacing:-0.35px;">$</div>
<div class="t r" style="left:760.3100000000001px;width:200px;top:609.8000000000001px;font-size:8.6px;color:#35484a;line-height:12px;letter-spacing:-0.35px;">3,000.00</div>
<div class="t" style="left:968.9099999999999px;top:609.8000000000001px;font-size:8.6px;color:#35484a;line-height:12px;letter-spacing:-0.35px;">$</div>
<div class="t r" style="left:826.9399999999998px;width:200px;top:609.8000000000001px;font-size:8.6px;color:#35484a;line-height:12px;letter-spacing:-0.35px;">3,000.00</div>
<div class="t" style="left:1035.54px;top:609.8000000000001px;font-size:8.6px;color:#35484a;line-height:12px;letter-spacing:-0.35px;">$</div>
<div class="t r" style="left:893.5699999999999px;width:200px;top:609.8000000000001px;font-size:8.6px;color:#35484a;line-height:12px;letter-spacing:-0.35px;">3,000.00</div>
<div class="t" style="left:1102.1699999999998px;top:609.8000000000001px;font-size:8.6px;color:#35484a;line-height:12px;letter-spacing:-0.35px;">$</div>
<div class="t r" style="left:960.2px;width:200px;top:609.8000000000001px;font-size:8.6px;color:#35484a;line-height:12px;letter-spacing:-0.35px;">3,000.00</div>
<div class="t" style="left:1168.8px;top:609.8000000000001px;font-size:8.6px;color:#35484a;line-height:12px;letter-spacing:-0.35px;">$</div>
<div class="t r" style="left:1026.8300000000002px;width:200px;top:609.8000000000001px;font-size:8.6px;color:#35484a;line-height:12px;letter-spacing:-0.35px;">3,000.00</div>
<div class="t" style="left:1235.4299999999998px;top:609.8000000000001px;font-size:8.6px;color:#35484a;line-height:12px;letter-spacing:-0.35px;">$</div>
<div class="t r" style="left:1093.4599999999998px;width:200px;top:609.8000000000001px;font-size:8.6px;color:#35484a;line-height:12px;letter-spacing:-0.35px;">3,000.00</div>
<div class="t" style="left:381.5px;top:626.0px;font-size:8.6px;color:#2f2c48;line-height:12px;letter-spacing:-0.15px;">Income Invested</div>
<div class="t" style="left:502.5px;top:626.0px;font-size:8.6px;color:#35484a;line-height:12px;letter-spacing:-0.35px;">$</div>
<div class="t r" style="left:360.53px;width:200px;top:626.0px;font-size:8.6px;color:#35484a;line-height:12px;letter-spacing:-0.35px;">740.00</div>
<div class="t" style="left:569.1299999999999px;top:626.0px;font-size:8.6px;color:#35484a;line-height:12px;letter-spacing:-0.35px;">$</div>
<div class="t r" style="left:427.15999999999997px;width:200px;top:626.0px;font-size:8.6px;color:#35484a;line-height:12px;letter-spacing:-0.35px;">740.00</div>
<div class="t" style="left:635.76px;top:626.0px;font-size:8.6px;color:#35484a;line-height:12px;letter-spacing:-0.35px;">$</div>
<div class="t r" style="left:493.7900000000001px;width:200px;top:626.0px;font-size:8.6px;color:#35484a;line-height:12px;letter-spacing:-0.35px;">740.00</div>
<div class="t" style="left:702.3899999999999px;top:626.0px;font-size:8.6px;color:#35484a;line-height:12px;letter-spacing:-0.35px;">$</div>
<div class="t r" style="left:560.42px;width:200px;top:626.0px;font-size:8.6px;color:#35484a;line-height:12px;letter-spacing:-0.35px;">740.00</div>
<div class="t" style="left:769.02px;top:626.0px;font-size:8.6px;color:#35484a;line-height:12px;letter-spacing:-0.35px;">$</div>
<div class="t r" style="left:627.0500000000001px;width:200px;top:626.0px;font-size:8.6px;color:#35484a;line-height:12px;letter-spacing:-0.35px;">740.00</div>
<div class="t" style="left:835.6499999999999px;top:626.0px;font-size:8.6px;color:#35484a;line-height:12px;letter-spacing:-0.35px;">$</div>
<div class="t r" style="left:693.68px;width:200px;top:626.0px;font-size:8.6px;color:#35484a;line-height:12px;letter-spacing:-0.35px;">740.00</div>
<div class="t" style="left:902.28px;top:626.0px;font-size:8.6px;color:#35484a;line-height:12px;letter-spacing:-0.35px;">$</div>
<div class="t r" style="left:760.3100000000001px;width:200px;top:626.0px;font-size:8.6px;color:#35484a;line-height:12px;letter-spacing:-0.35px;">740.00</div>
<div class="t" style="left:968.9099999999999px;top:626.0px;font-size:8.6px;color:#35484a;line-height:12px;letter-spacing:-0.35px;">$</div>
<div class="t r" style="left:826.9399999999998px;width:200px;top:626.0px;font-size:8.6px;color:#35484a;line-height:12px;letter-spacing:-0.35px;">740.00</div>
<div class="t" style="left:1035.54px;top:626.0px;font-size:8.6px;color:#35484a;line-height:12px;letter-spacing:-0.35px;">$</div>
<div class="t r" style="left:893.5699999999999px;width:200px;top:626.0px;font-size:8.6px;color:#35484a;line-height:12px;letter-spacing:-0.35px;">740.00</div>
<div class="t" style="left:1102.1699999999998px;top:626.0px;font-size:8.6px;color:#35484a;line-height:12px;letter-spacing:-0.35px;">$</div>
<div class="t r" style="left:960.2px;width:200px;top:626.0px;font-size:8.6px;color:#35484a;line-height:12px;letter-spacing:-0.35px;">740.00</div>
<div class="t" style="left:1168.8px;top:626.0px;font-size:8.6px;color:#35484a;line-height:12px;letter-spacing:-0.35px;">$</div>
<div class="t r" style="left:1026.8300000000002px;width:200px;top:626.0px;font-size:8.6px;color:#35484a;line-height:12px;letter-spacing:-0.35px;">740.00</div>
<div class="t" style="left:1235.4299999999998px;top:626.0px;font-size:8.6px;color:#35484a;line-height:12px;letter-spacing:-0.35px;">$</div>
<div class="t r" style="left:1093.4599999999998px;width:200px;top:626.0px;font-size:8.6px;color:#35484a;line-height:12px;letter-spacing:-0.35px;">740.00</div>
<div class="t" style="left:381.5px;top:642.2px;font-size:8.6px;color:#2f2c48;line-height:12px;letter-spacing:-0.15px;">Sinking Funds</div>
<div class="t" style="left:502.5px;top:642.2px;font-size:8.6px;color:#35484a;line-height:12px;letter-spacing:-0.35px;">$</div>
<div class="t r" style="left:360.53px;width:200px;top:642.2px;font-size:8.6px;color:#35484a;line-height:12px;letter-spacing:-0.35px;">1,180.00</div>
<div class="t" style="left:569.1299999999999px;top:642.2px;font-size:8.6px;color:#35484a;line-height:12px;letter-spacing:-0.35px;">$</div>
<div class="t r" style="left:427.15999999999997px;width:200px;top:642.2px;font-size:8.6px;color:#35484a;line-height:12px;letter-spacing:-0.35px;">1,180.00</div>
<div class="t" style="left:635.76px;top:642.2px;font-size:8.6px;color:#35484a;line-height:12px;letter-spacing:-0.35px;">$</div>
<div class="t r" style="left:493.7900000000001px;width:200px;top:642.2px;font-size:8.6px;color:#35484a;line-height:12px;letter-spacing:-0.35px;">1,180.00</div>
<div class="t" style="left:702.3899999999999px;top:642.2px;font-size:8.6px;color:#35484a;line-height:12px;letter-spacing:-0.35px;">$</div>
<div class="t r" style="left:560.42px;width:200px;top:642.2px;font-size:8.6px;color:#35484a;line-height:12px;letter-spacing:-0.35px;">1,180.00</div>
<div class="t" style="left:769.02px;top:642.2px;font-size:8.6px;color:#35484a;line-height:12px;letter-spacing:-0.35px;">$</div>
<div class="t r" style="left:627.0500000000001px;width:200px;top:642.2px;font-size:8.6px;color:#35484a;line-height:12px;letter-spacing:-0.35px;">1,180.00</div>
<div class="t" style="left:835.6499999999999px;top:642.2px;font-size:8.6px;color:#35484a;line-height:12px;letter-spacing:-0.35px;">$</div>
<div class="t r" style="left:693.68px;width:200px;top:642.2px;font-size:8.6px;color:#35484a;line-height:12px;letter-spacing:-0.35px;">1,180.00</div>
<div class="t" style="left:902.28px;top:642.2px;font-size:8.6px;color:#35484a;line-height:12px;letter-spacing:-0.35px;">$</div>
<div class="t r" style="left:760.3100000000001px;width:200px;top:642.2px;font-size:8.6px;color:#35484a;line-height:12px;letter-spacing:-0.35px;">1,180.00</div>
<div class="t" style="left:968.9099999999999px;top:642.2px;font-size:8.6px;color:#35484a;line-height:12px;letter-spacing:-0.35px;">$</div>
<div class="t r" style="left:826.9399999999998px;width:200px;top:642.2px;font-size:8.6px;color:#35484a;line-height:12px;letter-spacing:-0.35px;">1,180.00</div>
<div class="t" style="left:1035.54px;top:642.2px;font-size:8.6px;color:#35484a;line-height:12px;letter-spacing:-0.35px;">$</div>
<div class="t r" style="left:893.5699999999999px;width:200px;top:642.2px;font-size:8.6px;color:#35484a;line-height:12px;letter-spacing:-0.35px;">1,180.00</div>
<div class="t" style="left:1102.1699999999998px;top:642.2px;font-size:8.6px;color:#35484a;line-height:12px;letter-spacing:-0.35px;">$</div>
<div class="t r" style="left:960.2px;width:200px;top:642.2px;font-size:8.6px;color:#35484a;line-height:12px;letter-spacing:-0.35px;">1,180.00</div>
<div class="t" style="left:1168.8px;top:642.2px;font-size:8.6px;color:#35484a;line-height:12px;letter-spacing:-0.35px;">$</div>
<div class="t r" style="left:1026.8300000000002px;width:200px;top:642.2px;font-size:8.6px;color:#35484a;line-height:12px;letter-spacing:-0.35px;">1,180.00</div>
<div class="t" style="left:1235.4299999999998px;top:642.2px;font-size:8.6px;color:#35484a;line-height:12px;letter-spacing:-0.35px;">$</div>
<div class="t r" style="left:1093.4599999999998px;width:200px;top:642.2px;font-size:8.6px;color:#35484a;line-height:12px;letter-spacing:-0.35px;">1,180.00</div>
<div class="t" style="left:381.5px;top:658.4px;font-size:8.6px;color:#2f2c48;line-height:12px;letter-spacing:-0.15px;">Expenses</div>
<div class="t" style="left:502.5px;top:658.4px;font-size:8.6px;color:#35484a;line-height:12px;letter-spacing:-0.35px;">$</div>
<div class="t r" style="left:360.53px;width:200px;top:658.4px;font-size:8.6px;color:#35484a;line-height:12px;letter-spacing:-0.35px;">1,600.00</div>
<div class="t" style="left:569.1299999999999px;top:658.4px;font-size:8.6px;color:#35484a;line-height:12px;letter-spacing:-0.35px;">$</div>
<div class="t r" style="left:427.15999999999997px;width:200px;top:658.4px;font-size:8.6px;color:#35484a;line-height:12px;letter-spacing:-0.35px;">400.00</div>
<div class="t" style="left:635.76px;top:658.4px;font-size:8.6px;color:#35484a;line-height:12px;letter-spacing:-0.35px;">$</div>
<div class="t r" style="left:493.7900000000001px;width:200px;top:658.4px;font-size:8.6px;color:#35484a;line-height:12px;letter-spacing:-0.35px;">3,266.00</div>
<div class="t" style="left:702.3899999999999px;top:658.4px;font-size:8.6px;color:#35484a;line-height:12px;letter-spacing:-0.35px;">$</div>
<div class="t r" style="left:560.42px;width:200px;top:658.4px;font-size:8.6px;color:#35484a;line-height:12px;letter-spacing:-0.35px;">1,200.00</div>
<div class="t" style="left:769.02px;top:658.4px;font-size:8.6px;color:#35484a;line-height:12px;letter-spacing:-0.35px;">$</div>
<div class="t r" style="left:627.0500000000001px;width:200px;top:658.4px;font-size:8.6px;color:#35484a;line-height:12px;letter-spacing:-0.35px;">900.00</div>
<div class="t" style="left:835.6499999999999px;top:658.4px;font-size:8.6px;color:#35484a;line-height:12px;letter-spacing:-0.35px;">$</div>
<div class="t r" style="left:693.68px;width:200px;top:658.4px;font-size:8.6px;color:#35484a;line-height:12px;letter-spacing:-0.35px;">1,900.00</div>
<div class="t" style="left:902.28px;top:658.4px;font-size:8.6px;color:#35484a;line-height:12px;letter-spacing:-0.35px;">$</div>
<div class="t r" style="left:760.3100000000001px;width:200px;top:658.4px;font-size:8.6px;color:#35484a;line-height:12px;letter-spacing:-0.35px;">1,000.00</div>
<div class="t" style="left:968.9099999999999px;top:658.4px;font-size:8.6px;color:#35484a;line-height:12px;letter-spacing:-0.35px;">$</div>
<div class="t r" style="left:826.9399999999998px;width:200px;top:658.4px;font-size:8.6px;color:#35484a;line-height:12px;letter-spacing:-0.35px;">750.00</div>
<div class="t" style="left:1035.54px;top:658.4px;font-size:8.6px;color:#35484a;line-height:12px;letter-spacing:-0.35px;">$</div>
<div class="t r" style="left:893.5699999999999px;width:200px;top:658.4px;font-size:8.6px;color:#35484a;line-height:12px;letter-spacing:-0.35px;">1,750.00</div>
<div class="t" style="left:1102.1699999999998px;top:658.4px;font-size:8.6px;color:#35484a;line-height:12px;letter-spacing:-0.35px;">$</div>
<div class="t r" style="left:960.2px;width:200px;top:658.4px;font-size:8.6px;color:#35484a;line-height:12px;letter-spacing:-0.35px;">560.00</div>
<div class="t" style="left:1168.8px;top:658.4px;font-size:8.6px;color:#35484a;line-height:12px;letter-spacing:-0.35px;">$</div>
<div class="t r" style="left:1026.8300000000002px;width:200px;top:658.4px;font-size:8.6px;color:#35484a;line-height:12px;letter-spacing:-0.35px;">1,680.00</div>
<div class="t" style="left:1235.4299999999998px;top:658.4px;font-size:8.6px;color:#35484a;line-height:12px;letter-spacing:-0.35px;">$</div>
<div class="t r" style="left:1093.4599999999998px;width:200px;top:658.4px;font-size:8.6px;color:#35484a;line-height:12px;letter-spacing:-0.35px;">2,000.00</div>
<div class="t" style="left:381.5px;top:674.6px;font-size:8.6px;color:#2f2c48;line-height:12px;letter-spacing:-0.15px;">Subs &amp; Bills</div>
<div class="t" style="left:502.5px;top:674.6px;font-size:8.6px;color:#35484a;line-height:12px;letter-spacing:-0.35px;">$</div>
<div class="t r" style="left:360.53px;width:200px;top:674.6px;font-size:8.6px;color:#35484a;line-height:12px;letter-spacing:-0.35px;">559.95</div>
<div class="t" style="left:569.1299999999999px;top:674.6px;font-size:8.6px;color:#35484a;line-height:12px;letter-spacing:-0.35px;">$</div>
<div class="t r" style="left:427.15999999999997px;width:200px;top:674.6px;font-size:8.6px;color:#35484a;line-height:12px;letter-spacing:-0.35px;">559.95</div>
<div class="t" style="left:635.76px;top:674.6px;font-size:8.6px;color:#35484a;line-height:12px;letter-spacing:-0.35px;">$</div>
<div class="t r" style="left:493.7900000000001px;width:200px;top:674.6px;font-size:8.6px;color:#35484a;line-height:12px;letter-spacing:-0.35px;">559.95</div>
<div class="t" style="left:702.3899999999999px;top:674.6px;font-size:8.6px;color:#35484a;line-height:12px;letter-spacing:-0.35px;">$</div>
<div class="t r" style="left:560.42px;width:200px;top:674.6px;font-size:8.6px;color:#35484a;line-height:12px;letter-spacing:-0.35px;">559.95</div>
<div class="t" style="left:769.02px;top:674.6px;font-size:8.6px;color:#35484a;line-height:12px;letter-spacing:-0.35px;">$</div>
<div class="t r" style="left:627.0500000000001px;width:200px;top:674.6px;font-size:8.6px;color:#35484a;line-height:12px;letter-spacing:-0.35px;">559.95</div>
<div class="t" style="left:835.6499999999999px;top:674.6px;font-size:8.6px;color:#35484a;line-height:12px;letter-spacing:-0.35px;">$</div>
<div class="t r" style="left:693.68px;width:200px;top:674.6px;font-size:8.6px;color:#35484a;line-height:12px;letter-spacing:-0.35px;">559.95</div>
<div class="t" style="left:902.28px;top:674.6px;font-size:8.6px;color:#35484a;line-height:12px;letter-spacing:-0.35px;">$</div>
<div class="t r" style="left:760.3100000000001px;width:200px;top:674.6px;font-size:8.6px;color:#35484a;line-height:12px;letter-spacing:-0.35px;">559.95</div>
<div class="t" style="left:968.9099999999999px;top:674.6px;font-size:8.6px;color:#35484a;line-height:12px;letter-spacing:-0.35px;">$</div>
<div class="t r" style="left:826.9399999999998px;width:200px;top:674.6px;font-size:8.6px;color:#35484a;line-height:12px;letter-spacing:-0.35px;">559.95</div>
<div class="t" style="left:1035.54px;top:674.6px;font-size:8.6px;color:#35484a;line-height:12px;letter-spacing:-0.35px;">$</div>
<div class="t r" style="left:893.5699999999999px;width:200px;top:674.6px;font-size:8.6px;color:#35484a;line-height:12px;letter-spacing:-0.35px;">559.95</div>
<div class="t" style="left:1102.1699999999998px;top:674.6px;font-size:8.6px;color:#35484a;line-height:12px;letter-spacing:-0.35px;">$</div>
<div class="t r" style="left:960.2px;width:200px;top:674.6px;font-size:8.6px;color:#35484a;line-height:12px;letter-spacing:-0.35px;">559.95</div>
<div class="t" style="left:1168.8px;top:674.6px;font-size:8.6px;color:#35484a;line-height:12px;letter-spacing:-0.35px;">$</div>
<div class="t r" style="left:1026.8300000000002px;width:200px;top:674.6px;font-size:8.6px;color:#35484a;line-height:12px;letter-spacing:-0.35px;">559.95</div>
<div class="t" style="left:1235.4299999999998px;top:674.6px;font-size:8.6px;color:#35484a;line-height:12px;letter-spacing:-0.35px;">$</div>
<div class="t r" style="left:1093.4599999999998px;width:200px;top:674.6px;font-size:8.6px;color:#35484a;line-height:12px;letter-spacing:-0.35px;">559.95</div>
<div class="t" style="left:381.5px;top:690.8000000000001px;font-size:8.6px;color:#2f2c48;line-height:12px;letter-spacing:-0.15px;">Debts &amp; Loans</div>
<div class="t" style="left:502.5px;top:690.8000000000001px;font-size:8.6px;color:#35484a;line-height:12px;letter-spacing:-0.35px;">$</div>
<div class="t r" style="left:360.53px;width:200px;top:690.8000000000001px;font-size:8.6px;color:#35484a;line-height:12px;letter-spacing:-0.35px;">925.00</div>
<div class="t" style="left:569.1299999999999px;top:690.8000000000001px;font-size:8.6px;color:#35484a;line-height:12px;letter-spacing:-0.35px;">$</div>
<div class="t r" style="left:427.15999999999997px;width:200px;top:690.8000000000001px;font-size:8.6px;color:#35484a;line-height:12px;letter-spacing:-0.35px;">925.00</div>
<div class="t" style="left:635.76px;top:690.8000000000001px;font-size:8.6px;color:#35484a;line-height:12px;letter-spacing:-0.35px;">$</div>
<div class="t r" style="left:493.7900000000001px;width:200px;top:690.8000000000001px;font-size:8.6px;color:#35484a;line-height:12px;letter-spacing:-0.35px;">925.00</div>
<div class="t" style="left:702.3899999999999px;top:690.8000000000001px;font-size:8.6px;color:#35484a;line-height:12px;letter-spacing:-0.35px;">$</div>
<div class="t r" style="left:560.42px;width:200px;top:690.8000000000001px;font-size:8.6px;color:#35484a;line-height:12px;letter-spacing:-0.35px;">925.00</div>
<div class="t" style="left:769.02px;top:690.8000000000001px;font-size:8.6px;color:#35484a;line-height:12px;letter-spacing:-0.35px;">$</div>
<div class="t r" style="left:627.0500000000001px;width:200px;top:690.8000000000001px;font-size:8.6px;color:#35484a;line-height:12px;letter-spacing:-0.35px;">925.00</div>
<div class="t" style="left:835.6499999999999px;top:690.8000000000001px;font-size:8.6px;color:#35484a;line-height:12px;letter-spacing:-0.35px;">$</div>
<div class="t r" style="left:693.68px;width:200px;top:690.8000000000001px;font-size:8.6px;color:#35484a;line-height:12px;letter-spacing:-0.35px;">925.00</div>
<div class="t" style="left:902.28px;top:690.8000000000001px;font-size:8.6px;color:#35484a;line-height:12px;letter-spacing:-0.35px;">$</div>
<div class="t r" style="left:760.3100000000001px;width:200px;top:690.8000000000001px;font-size:8.6px;color:#35484a;line-height:12px;letter-spacing:-0.35px;">925.00</div>
<div class="t" style="left:968.9099999999999px;top:690.8000000000001px;font-size:8.6px;color:#35484a;line-height:12px;letter-spacing:-0.35px;">$</div>
<div class="t r" style="left:826.9399999999998px;width:200px;top:690.8000000000001px;font-size:8.6px;color:#35484a;line-height:12px;letter-spacing:-0.35px;">925.00</div>
<div class="t" style="left:1035.54px;top:690.8000000000001px;font-size:8.6px;color:#35484a;line-height:12px;letter-spacing:-0.35px;">$</div>
<div class="t r" style="left:893.5699999999999px;width:200px;top:690.8000000000001px;font-size:8.6px;color:#35484a;line-height:12px;letter-spacing:-0.35px;">925.00</div>
<div class="t" style="left:1102.1699999999998px;top:690.8000000000001px;font-size:8.6px;color:#35484a;line-height:12px;letter-spacing:-0.35px;">$</div>
<div class="t r" style="left:960.2px;width:200px;top:690.8000000000001px;font-size:8.6px;color:#35484a;line-height:12px;letter-spacing:-0.35px;">925.00</div>
<div class="t" style="left:1168.8px;top:690.8000000000001px;font-size:8.6px;color:#35484a;line-height:12px;letter-spacing:-0.35px;">$</div>
<div class="t r" style="left:1026.8300000000002px;width:200px;top:690.8000000000001px;font-size:8.6px;color:#35484a;line-height:12px;letter-spacing:-0.35px;">925.00</div>
<div class="t" style="left:1235.4299999999998px;top:690.8000000000001px;font-size:8.6px;color:#35484a;line-height:12px;letter-spacing:-0.35px;">$</div>
<div class="t r" style="left:1093.4599999999998px;width:200px;top:690.8000000000001px;font-size:8.6px;color:#35484a;line-height:12px;letter-spacing:-0.35px;">925.00</div>
<div class="t" style="left:364.5px;top:706.6999999999999px;font-size:8.4px;font-weight:bold;color:#2b2646;line-height:12px;letter-spacing:-0.1px;letter-spacing:2.6px;">REMAINING</div>
<div class="t" style="left:502.5px;top:706.6999999999999px;font-size:8.4px;font-weight:bold;color:#2b2646;line-height:12px;letter-spacing:-0.1px;">$</div>
<div class="t r" style="left:360.53px;width:200px;top:706.6999999999999px;font-size:8.4px;font-weight:bold;color:#2b2646;line-height:12px;letter-spacing:-0.1px;">2,363.05</div>
<div class="t" style="left:569.1299999999999px;top:706.6999999999999px;font-size:8.4px;font-weight:bold;color:#2b2646;line-height:12px;letter-spacing:-0.1px;">$</div>
<div class="t r" style="left:427.15999999999997px;width:200px;top:706.6999999999999px;font-size:8.4px;font-weight:bold;color:#2b2646;line-height:12px;letter-spacing:-0.1px;">3,563.05</div>
<div class="t" style="left:635.76px;top:706.6999999999999px;font-size:8.4px;font-weight:bold;color:#2b2646;line-height:12px;letter-spacing:-0.1px;">$</div>
<div class="t r" style="left:493.7900000000001px;width:200px;top:706.6999999999999px;font-size:8.4px;font-weight:bold;color:#2b2646;line-height:12px;letter-spacing:-0.1px;">3,197.05</div>
<div class="t" style="left:702.3899999999999px;top:706.6999999999999px;font-size:8.4px;font-weight:bold;color:#2b2646;line-height:12px;letter-spacing:-0.1px;">$</div>
<div class="t r" style="left:560.42px;width:200px;top:706.6999999999999px;font-size:8.4px;font-weight:bold;color:#2b2646;line-height:12px;letter-spacing:-0.1px;">2,763.05</div>
<div class="t" style="left:769.02px;top:706.6999999999999px;font-size:8.4px;font-weight:bold;color:#2b2646;line-height:12px;letter-spacing:-0.1px;">$</div>
<div class="t r" style="left:627.0500000000001px;width:200px;top:706.6999999999999px;font-size:8.4px;font-weight:bold;color:#2b2646;line-height:12px;letter-spacing:-0.1px;">3,063.05</div>
<div class="t" style="left:835.6499999999999px;top:706.6999999999999px;font-size:8.4px;font-weight:bold;color:#2b2646;line-height:12px;letter-spacing:-0.1px;">$</div>
<div class="t r" style="left:693.68px;width:200px;top:706.6999999999999px;font-size:8.4px;font-weight:bold;color:#2b2646;line-height:12px;letter-spacing:-0.1px;">2,063.05</div>
<div class="t" style="left:902.28px;top:706.6999999999999px;font-size:8.4px;font-weight:bold;color:#2b2646;line-height:12px;letter-spacing:-0.1px;">$</div>
<div class="t r" style="left:760.3100000000001px;width:200px;top:706.6999999999999px;font-size:8.4px;font-weight:bold;color:#2b2646;line-height:12px;letter-spacing:-0.1px;">2,963.05</div>
<div class="t" style="left:968.9099999999999px;top:706.6999999999999px;font-size:8.4px;font-weight:bold;color:#2b2646;line-height:12px;letter-spacing:-0.1px;">$</div>
<div class="t r" style="left:826.9399999999998px;width:200px;top:706.6999999999999px;font-size:8.4px;font-weight:bold;color:#2b2646;line-height:12px;letter-spacing:-0.1px;">3,213.05</div>
<div class="t" style="left:1035.54px;top:706.6999999999999px;font-size:8.4px;font-weight:bold;color:#2b2646;line-height:12px;letter-spacing:-0.1px;">$</div>
<div class="t r" style="left:893.5699999999999px;width:200px;top:706.6999999999999px;font-size:8.4px;font-weight:bold;color:#2b2646;line-height:12px;letter-spacing:-0.1px;">2,213.05</div>
<div class="t" style="left:1102.1699999999998px;top:706.6999999999999px;font-size:8.4px;font-weight:bold;color:#2b2646;line-height:12px;letter-spacing:-0.1px;">$</div>
<div class="t r" style="left:960.2px;width:200px;top:706.6999999999999px;font-size:8.4px;font-weight:bold;color:#2b2646;line-height:12px;letter-spacing:-0.1px;">3,403.05</div>
<div class="t" style="left:1168.8px;top:706.6999999999999px;font-size:8.4px;font-weight:bold;color:#2b2646;line-height:12px;letter-spacing:-0.1px;">$</div>
<div class="t r" style="left:1026.8300000000002px;width:200px;top:706.6999999999999px;font-size:8.4px;font-weight:bold;color:#2b2646;line-height:12px;letter-spacing:-0.1px;">2,283.05</div>
<div class="t" style="left:1235.4299999999998px;top:706.6999999999999px;font-size:8.4px;font-weight:bold;color:#2b2646;line-height:12px;letter-spacing:-0.1px;">$</div>
<div class="t r" style="left:1093.4599999999998px;width:200px;top:706.6999999999999px;font-size:8.4px;font-weight:bold;color:#2b2646;line-height:12px;letter-spacing:-0.1px;">1,963.05</div>
<svg width="1350" height="1025"><path d="M242.0,583.7L249.1,583.7M246.7,581.3000000000001L249.3,583.7L246.7,586.1" fill="none" stroke="#2b2646" stroke-width="1.05" stroke-linecap="round" stroke-linejoin="round"/><path d="M50.4,602.6999999999999L54.0,596.5L57.6,602.6999999999999Z" fill="#b8dfe6"/><path d="M50.4,618.9L54.0,612.7L57.6,618.9Z" fill="#b8dfe6"/><path d="M50.4,635.0999999999999L54.0,628.9L57.6,635.0999999999999Z" fill="#b8dfe6"/><path d="M50.4,651.3L54.0,645.1L57.6,651.3Z" fill="#b8dfe6"/><path d="M50.4,660.8L57.6,660.8L54.0,667.4Z" fill="#c5b9df"/><path d="M50.4,677.0L57.6,677.0L54.0,683.6Z" fill="#c5b9df"/><path d="M50.4,693.2L57.6,693.2L54.0,699.8000000000001Z" fill="#c5b9df"/><line x1="45" x2="346" y1="607.2" y2="607.2" stroke="#3f5a4e" stroke-width="0.8" stroke-dasharray="1 1" opacity="0.8"/><line x1="45" x2="346" y1="623.4" y2="623.4" stroke="#3f5a4e" stroke-width="0.8" stroke-dasharray="1 1" opacity="0.8"/><line x1="45" x2="346" y1="639.6" y2="639.6" stroke="#3f5a4e" stroke-width="0.8" stroke-dasharray="1 1" opacity="0.8"/><line x1="45" x2="346" y1="655.8" y2="655.8" stroke="#3f5a4e" stroke-width="0.8" stroke-dasharray="1 1" opacity="0.8"/><line x1="45" x2="346" y1="672.0" y2="672.0" stroke="#3f5a4e" stroke-width="0.8" stroke-dasharray="1 1" opacity="0.8"/><line x1="45" x2="346" y1="688.2" y2="688.2" stroke="#3f5a4e" stroke-width="0.8" stroke-dasharray="1 1" opacity="0.8"/><line x1="45" x2="346" y1="704.4" y2="704.4" stroke="#3f5a4e" stroke-width="0.8" stroke-dasharray="1 1" opacity="0.8"/><line x1="145.4" x2="145.4" y1="591" y2="704.4" stroke="#3f5a4e" stroke-width="0.9" stroke-dasharray="1 1" opacity="0.85"/><line x1="212.5" x2="212.5" y1="591" y2="704.4" stroke="#3f5a4e" stroke-width="0.9" stroke-dasharray="1 1" opacity="0.85"/><line x1="278.6" x2="278.6" y1="591" y2="704.4" stroke="#3f5a4e" stroke-width="0.9" stroke-dasharray="1 1" opacity="0.85"/><path d="M367.40000000000003,602.6999999999999L371.0,596.5L374.6,602.6999999999999Z" fill="#b8dfe6"/><path d="M367.40000000000003,618.9L371.0,612.7L374.6,618.9Z" fill="#b8dfe6"/><path d="M367.40000000000003,635.0999999999999L371.0,628.9L374.6,635.0999999999999Z" fill="#b8dfe6"/><path d="M367.40000000000003,651.3L371.0,645.1L374.6,651.3Z" fill="#b8dfe6"/><path d="M367.40000000000003,660.8L374.6,660.8L371.0,667.4Z" fill="#c5b9df"/><path d="M367.40000000000003,677.0L374.6,677.0L371.0,683.6Z" fill="#c5b9df"/><path d="M367.40000000000003,693.2L374.6,693.2L371.0,699.8000000000001Z" fill="#c5b9df"/><line x1="362" x2="1296" y1="607.2" y2="607.2" stroke="#3f5a4e" stroke-width="0.8" stroke-dasharray="1 1" opacity="0.8"/><line x1="362" x2="1296" y1="623.4" y2="623.4" stroke="#3f5a4e" stroke-width="0.8" stroke-dasharray="1 1" opacity="0.8"/><line x1="362" x2="1296" y1="639.6" y2="639.6" stroke="#3f5a4e" stroke-width="0.8" stroke-dasharray="1 1" opacity="0.8"/><line x1="362" x2="1296" y1="655.8" y2="655.8" stroke="#3f5a4e" stroke-width="0.8" stroke-dasharray="1 1" opacity="0.8"/><line x1="362" x2="1296" y1="672.0" y2="672.0" stroke="#3f5a4e" stroke-width="0.8" stroke-dasharray="1 1" opacity="0.8"/><line x1="362" x2="1296" y1="688.2" y2="688.2" stroke="#3f5a4e" stroke-width="0.8" stroke-dasharray="1 1" opacity="0.8"/><line x1="362" x2="1296" y1="704.4" y2="704.4" stroke="#3f5a4e" stroke-width="0.8" stroke-dasharray="1 1" opacity="0.8"/><line x1="496.2" x2="496.2" y1="591" y2="704.4" stroke="#3f5a4e" stroke-width="0.9" stroke-dasharray="1 1" opacity="0.85"/><line x1="562.8" x2="562.8" y1="591" y2="704.4" stroke="#3f5a4e" stroke-width="0.9" stroke-dasharray="1 1" opacity="0.85"/><line x1="629.5" x2="629.5" y1="591" y2="704.4" stroke="#3f5a4e" stroke-width="0.9" stroke-dasharray="1 1" opacity="0.85"/><line x1="696.1" x2="696.1" y1="591" y2="704.4" stroke="#3f5a4e" stroke-width="0.9" stroke-dasharray="1 1" opacity="0.85"/><line x1="762.7" x2="762.7" y1="591" y2="704.4" stroke="#3f5a4e" stroke-width="0.9" stroke-dasharray="1 1" opacity="0.85"/><line x1="829.3" x2="829.3" y1="591" y2="704.4" stroke="#3f5a4e" stroke-width="0.9" stroke-dasharray="1 1" opacity="0.85"/><line x1="896.0" x2="896.0" y1="591" y2="704.4" stroke="#3f5a4e" stroke-width="0.9" stroke-dasharray="1 1" opacity="0.85"/><line x1="962.6" x2="962.6" y1="591" y2="704.4" stroke="#3f5a4e" stroke-width="0.9" stroke-dasharray="1 1" opacity="0.85"/><line x1="1029.2" x2="1029.2" y1="591" y2="704.4" stroke="#3f5a4e" stroke-width="0.9" stroke-dasharray="1 1" opacity="0.85"/><line x1="1095.9" x2="1095.9" y1="591" y2="704.4" stroke="#3f5a4e" stroke-width="0.9" stroke-dasharray="1 1" opacity="0.85"/><line x1="1162.5" x2="1162.5" y1="591" y2="704.4" stroke="#3f5a4e" stroke-width="0.9" stroke-dasharray="1 1" opacity="0.85"/><line x1="1229.1" x2="1229.1" y1="591" y2="704.4" stroke="#3f5a4e" stroke-width="0.9" stroke-dasharray="1 1" opacity="0.85"/></svg>
<div class="" style="left:45px;top:542px;width:301px;height:180px;border:1px solid #56705f;"></div>
<div class="" style="left:362px;top:542px;width:934px;height:180px;border:1px solid #56705f;"></div>
<div class="t c" style="left:-502.7px;width:1400px;top:743.2px;font-size:8px;font-weight:bold;letter-spacing:1.4px;color:#8b889c;line-height:10px;letter-spacing:1.63px;">INCOME VS EXPENSES</div>
<div class="t" style="left:152.5px;top:758px;font-size:6.6px;font-weight:bold;letter-spacing:1.38px;color:#2f2b45;line-height:10px;">INCOME</div>
<div class="t" style="left:207.8px;top:758px;font-size:6.6px;font-weight:bold;letter-spacing:1.38px;color:#2f2b45;line-height:10px;">EXPENSES</div>
<div class="t r" style="left:-110.5px;width:200px;top:775.3px;font-size:7.6px;color:#2f2b45;line-height:10px;">15,000.00</div>
<div class="t r" style="left:-110.5px;width:200px;top:818.1px;font-size:7.6px;color:#2f2b45;line-height:10px;">10,000.00</div>
<div class="t r" style="left:-110.5px;width:200px;top:861.4px;font-size:7.6px;color:#2f2b45;line-height:10px;">5,000.00</div>
<div class="t c" style="left:-606.5px;width:1400px;top:911.5px;font-size:7.6px;color:#2f2b45;line-height:10px;">JAN</div>
<div class="t c" style="left:-584.45px;width:1400px;top:911.5px;font-size:7.6px;color:#2f2b45;line-height:10px;">FEB</div>
<div class="t c" style="left:-562.4px;width:1400px;top:911.5px;font-size:7.6px;color:#2f2b45;line-height:10px;">MAR</div>
<div class="t c" style="left:-540.35px;width:1400px;top:911.5px;font-size:7.6px;color:#2f2b45;line-height:10px;">APR</div>
<div class="t c" style="left:-518.3px;width:1400px;top:911.5px;font-size:7.6px;color:#2f2b45;line-height:10px;">MAY</div>
<div class="t c" style="left:-496.25px;width:1400px;top:911.5px;font-size:7.6px;color:#2f2b45;line-height:10px;">JUN</div>
<div class="t c" style="left:-474.2px;width:1400px;top:911.5px;font-size:7.6px;color:#2f2b45;line-height:10px;">JUL</div>
<div class="t c" style="left:-452.15px;width:1400px;top:911.5px;font-size:7.6px;color:#2f2b45;line-height:10px;">AUG</div>
<div class="t c" style="left:-430.1px;width:1400px;top:911.5px;font-size:7.6px;color:#2f2b45;line-height:10px;">SEP</div>
<div class="t c" style="left:-408.04999999999995px;width:1400px;top:911.5px;font-size:7.6px;color:#2f2b45;line-height:10px;">OCT</div>
<div class="t c" style="left:-386.0px;width:1400px;top:911.5px;font-size:7.6px;color:#2f2b45;line-height:10px;">NOV</div>
<div class="t c" style="left:-363.95px;width:1400px;top:911.5px;font-size:7.6px;color:#2f2b45;line-height:10px;">DEC</div>
<div class="t c" style="left:-185.79999999999995px;width:1400px;top:747px;font-size:8px;font-weight:bold;letter-spacing:1.4px;color:#8b889c;line-height:10px;letter-spacing:1.6px;">ANNUAL SUMMARY</div>
<div class="t" style="left:475px;top:760.5px;font-size:6.6px;font-weight:bold;letter-spacing:1.38px;color:#2f2b45;line-height:10px;">ACTUAL</div>
<div class="t" style="left:530.5px;top:760.5px;font-size:6.6px;font-weight:bold;letter-spacing:1.38px;color:#2f2b45;line-height:10px;">BUDGET</div>
<div class="t r" style="left:228.60000000000002px;width:200px;top:783.1px;font-size:7.6px;color:#2f2b45;line-height:10px;">Income</div>
<div class="t r" style="left:228.60000000000002px;width:200px;top:800.7px;font-size:7.6px;color:#2f2b45;line-height:10px;">Income Saved</div>
<div class="t r" style="left:228.60000000000002px;width:200px;top:836.5px;font-size:7.6px;color:#2f2b45;line-height:10px;">Sinking Funds</div>
<div class="t r" style="left:228.60000000000002px;width:200px;top:855.9000000000001px;font-size:7.6px;color:#2f2b45;line-height:10px;">Expenses</div>
<div class="t r" style="left:228.60000000000002px;width:200px;top:873.8000000000001px;font-size:7.6px;color:#2f2b45;line-height:10px;">Subs &amp; Bills</div>
<div class="t r" style="left:228.60000000000002px;width:200px;top:891.9000000000001px;font-size:7.6px;color:#2f2b45;line-height:10px;">Debts &amp; Loans</div>
<div class="t r" style="left:228.60000000000002px;width:200px;top:815px;font-size:7.6px;color:#2f2b45;line-height:10px;">Income</div>
<div class="t r" style="left:228.60000000000002px;width:200px;top:822.7px;font-size:7.6px;color:#2f2b45;line-height:10px;">Invested</div>
<div class="t c" style="left:-267.4px;width:1400px;top:911.8px;font-size:7.6px;color:#2f2b45;line-height:10px;">0.00</div>
<div class="t c" style="left:-193.79999999999995px;width:1400px;top:911.8px;font-size:7.6px;color:#2f2b45;line-height:10px;">50,000.00</div>
<div class="t c" style="left:-120.20000000000005px;width:1400px;top:911.8px;font-size:7.6px;color:#2f2b45;line-height:10px;">100,000.00</div>
<div class="t c" style="left:130.5px;width:1400px;top:745.8px;font-size:8px;font-weight:bold;letter-spacing:1.4px;color:#8b889c;line-height:10px;letter-spacing:1.63px;">MONTHLY BALANCE</div>
<div class="t r" style="left:518px;width:200px;top:759.5px;font-size:7.6px;color:#2f2b45;line-height:10px;">4,000.00</div>
<div class="t r" style="left:518px;width:200px;top:795.4px;font-size:7.6px;color:#2f2b45;line-height:10px;">3,000.00</div>
<div class="t r" style="left:518px;width:200px;top:831.2px;font-size:7.6px;color:#2f2b45;line-height:10px;">2,000.00</div>
<div class="t r" style="left:518px;width:200px;top:868.1px;font-size:7.6px;color:#2f2b45;line-height:10px;">1,000.00</div>
<div class="t r" style="left:518px;width:200px;top:903.9px;font-size:7.6px;color:#2f2b45;line-height:10px;">0.00</div>
<div class="t c" style="left:35.700000000000045px;width:1400px;top:911.5px;font-size:7.6px;color:#2f2b45;line-height:10px;">JAN</div>
<div class="t c" style="left:55.74000000000001px;width:1400px;top:911.5px;font-size:7.6px;color:#2f2b45;line-height:10px;">FEB</div>
<div class="t c" style="left:75.78000000000009px;width:1400px;top:911.5px;font-size:7.6px;color:#2f2b45;line-height:10px;">MAR</div>
<div class="t c" style="left:95.82000000000005px;width:1400px;top:911.5px;font-size:7.6px;color:#2f2b45;line-height:10px;">APR</div>
<div class="t c" style="left:115.86000000000001px;width:1400px;top:911.5px;font-size:7.6px;color:#2f2b45;line-height:10px;">MAY</div>
<div class="t c" style="left:135.9000000000001px;width:1400px;top:911.5px;font-size:7.6px;color:#2f2b45;line-height:10px;">JUN</div>
<div class="t c" style="left:155.94000000000005px;width:1400px;top:911.5px;font-size:7.6px;color:#2f2b45;line-height:10px;">JUL</div>
<div class="t c" style="left:175.98000000000002px;width:1400px;top:911.5px;font-size:7.6px;color:#2f2b45;line-height:10px;">AUG</div>
<div class="t c" style="left:196.01999999999998px;width:1400px;top:911.5px;font-size:7.6px;color:#2f2b45;line-height:10px;">SEP</div>
<div class="t c" style="left:216.06000000000006px;width:1400px;top:911.5px;font-size:7.6px;color:#2f2b45;line-height:10px;">OCT</div>
<div class="t c" style="left:236.10000000000002px;width:1400px;top:911.5px;font-size:7.6px;color:#2f2b45;line-height:10px;">NOV</div>
<div class="t c" style="left:256.1400000000001px;width:1400px;top:911.5px;font-size:7.6px;color:#2f2b45;line-height:10px;">DEC</div>
<div class="t c" style="left:446.20000000000005px;width:1400px;top:745.8px;font-size:8px;font-weight:bold;letter-spacing:1.4px;color:#8b889c;line-height:10px;letter-spacing:1.3px;">EXPENSE BREAKDOWN</div>
<div class="t" style="left:1004.7px;top:760.0px;font-size:7.7px;color:#35304c;line-height:10px;">Shopping</div>
<div class="t" style="left:1004.7px;top:769.6px;font-size:7.4px;color:#a3a3a3;line-height:10px;">11.5%</div>
<div class="t" style="left:1004.7px;top:777.2px;font-size:7.7px;color:#35304c;line-height:10px;">Self-Developm...</div>
<div class="t" style="left:1004.7px;top:786.8000000000001px;font-size:7.4px;color:#a3a3a3;line-height:10px;">1.8%</div>
<div class="t" style="left:1004.7px;top:794.5px;font-size:7.7px;color:#35304c;line-height:10px;">Pet</div>
<div class="t" style="left:1004.7px;top:804.1px;font-size:7.4px;color:#a3a3a3;line-height:10px;">3.2%</div>
<div class="t" style="left:1004.7px;top:816.8000000000001px;font-size:7.7px;color:#35304c;line-height:10px;">Education</div>
<div class="t" style="left:1004.7px;top:826.4000000000001px;font-size:7.4px;color:#a3a3a3;line-height:10px;">11.4%</div>
<div class="t" style="left:1004.7px;top:859.6px;font-size:7.7px;color:#35304c;line-height:10px;">Health</div>
<div class="t" style="left:1004.7px;top:869.2px;font-size:7.4px;color:#a3a3a3;line-height:10px;">6.6%</div>
<div class="t" style="left:1004.7px;top:884.5px;font-size:7.7px;color:#35304c;line-height:10px;">Beauty</div>
<div class="t" style="left:1004.7px;top:894.1px;font-size:7.4px;color:#a3a3a3;line-height:10px;">8.3%</div>
<div class="t" style="left:1004.7px;top:901.8000000000001px;font-size:7.7px;color:#35304c;line-height:10px;">Hobby</div>
<div class="t" style="left:1004.7px;top:911.4000000000001px;font-size:7.4px;color:#a3a3a3;line-height:10px;">5.9%</div>
<div class="t r" style="left:1085.4px;width:200px;top:760.0px;font-size:7.7px;color:#35304c;line-height:10px;">Groceries</div>
<div class="t r" style="left:1085.4px;width:200px;top:769.6px;font-size:7.4px;color:#a3a3a3;line-height:10px;">8.7%</div>
<div class="t r" style="left:1085.4px;width:200px;top:777.2px;font-size:7.7px;color:#35304c;line-height:10px;">Eating Out</div>
<div class="t r" style="left:1085.4px;width:200px;top:786.8000000000001px;font-size:7.4px;color:#a3a3a3;line-height:10px;">2.6%</div>
<div class="t r" style="left:1085.4px;width:200px;top:794.5px;font-size:7.7px;color:#35304c;line-height:10px;">Fuel</div>
<div class="t r" style="left:1085.4px;width:200px;top:804.1px;font-size:7.4px;color:#a3a3a3;line-height:10px;">6.6%</div>
<div class="t r" style="left:1085.4px;width:200px;top:811.7px;font-size:7.7px;color:#35304c;line-height:10px;">Cinema</div>
<div class="t r" style="left:1085.4px;width:200px;top:821.3000000000001px;font-size:7.4px;color:#a3a3a3;line-height:10px;">1.0%</div>
<div class="t r" style="left:1085.4px;width:200px;top:828.9px;font-size:7.7px;color:#35304c;line-height:10px;">Household</div>
<div class="t r" style="left:1085.4px;width:200px;top:838.5px;font-size:7.4px;color:#a3a3a3;line-height:10px;">5.0%</div>
<div class="t r" style="left:1085.4px;width:200px;top:855.7px;font-size:7.7px;color:#35304c;line-height:10px;">Apparel</div>
<div class="t r" style="left:1085.4px;width:200px;top:865.3000000000001px;font-size:7.4px;color:#a3a3a3;line-height:10px;">12.6%</div>
<div class="t r" style="left:1085.4px;width:200px;top:900.9px;font-size:7.7px;color:#35304c;line-height:10px;">Gadgets</div>
<div class="t r" style="left:1085.4px;width:200px;top:910.5px;font-size:7.4px;color:#a3a3a3;line-height:10px;">14.9%</div>
<svg width="1350" height="1025"><path d="M93.5,819.9C97.8,818.8 106.9,811.9 115.5,812.6C124.2,813.3 129.0,818.8 137.6,824.7C146.2,830.6 151.0,850.4 159.7,853.4C168.3,856.4 173.1,848.5 181.7,845.6C190.3,842.7 195.1,838.8 203.8,833.3C212.4,827.8 217.2,809.3 225.8,807.6C234.4,805.9 239.2,819.6 247.8,821.9C256.5,824.2 261.3,821.4 269.9,823.2C278.5,825.0 283.3,833.6 292.0,834.5C300.6,835.4 305.4,834.8 314.0,829.7C322.6,824.6 331.7,803.7 336.1,799.3L336.05,908.8L93.5,908.8Z" fill="#b8dfe6" fill-opacity="0.3"/><path d="M93.5,883.7C97.8,882.9 106.9,877.4 115.5,878.1C124.2,878.8 129.0,888.8 137.6,888.4C146.2,888.0 151.0,876.9 159.7,875.6C168.3,874.3 173.1,877.9 181.7,879.4C190.3,880.9 195.1,885.8 203.8,885.9C212.4,886.0 217.2,880.1 225.8,879.9C234.4,879.7 239.2,886.0 247.8,884.2C256.5,882.4 261.3,868.2 269.9,867.8C278.5,867.4 283.3,879.2 292.0,881.6C300.6,884.0 305.4,884.2 314.0,884.4C322.6,884.6 331.7,883.1 336.1,882.9L336.05,908.8L93.5,908.8Z" fill="#c5b9df" fill-opacity="0.33"/><path d="M93.5,819.9C97.8,818.8 106.9,811.9 115.5,812.6C124.2,813.3 129.0,818.8 137.6,824.7C146.2,830.6 151.0,850.4 159.7,853.4C168.3,856.4 173.1,848.5 181.7,845.6C190.3,842.7 195.1,838.8 203.8,833.3C212.4,827.8 217.2,809.3 225.8,807.6C234.4,805.9 239.2,819.6 247.8,821.9C256.5,824.2 261.3,821.4 269.9,823.2C278.5,825.0 283.3,833.6 292.0,834.5C300.6,835.4 305.4,834.8 314.0,829.7C322.6,824.6 331.7,803.7 336.1,799.3" fill="none" stroke="#b8dfe6" stroke-width="1.5"/><path d="M93.5,883.7C97.8,882.9 106.9,877.4 115.5,878.1C124.2,878.8 129.0,888.8 137.6,888.4C146.2,888.0 151.0,876.9 159.7,875.6C168.3,874.3 173.1,877.9 181.7,879.4C190.3,880.9 195.1,885.8 203.8,885.9C212.4,886.0 217.2,880.1 225.8,879.9C234.4,879.7 239.2,886.0 247.8,884.2C256.5,882.4 261.3,868.2 269.9,867.8C278.5,867.4 283.3,879.2 292.0,881.6C300.6,884.0 305.4,884.2 314.0,884.4C322.6,884.6 331.7,883.1 336.1,882.9" fill="none" stroke="#c5b9df" stroke-width="1.5"/><clipPath id="cl1"><rect x="93.5" y="760" width="242.8" height="150"/></clipPath><g clip-path="url(#cl1)"><circle cx="93.5" cy="819.9" r="2.8" fill="#b8dfe6"/><circle cx="115.5" cy="812.6" r="2.8" fill="#b8dfe6"/><circle cx="137.6" cy="824.7" r="2.8" fill="#b8dfe6"/><circle cx="159.7" cy="853.4" r="2.8" fill="#b8dfe6"/><circle cx="181.7" cy="845.6" r="2.8" fill="#b8dfe6"/><circle cx="203.8" cy="833.3" r="2.8" fill="#b8dfe6"/><circle cx="225.8" cy="807.6" r="2.8" fill="#b8dfe6"/><circle cx="247.8" cy="821.9" r="2.8" fill="#b8dfe6"/><circle cx="269.9" cy="823.2" r="2.8" fill="#b8dfe6"/><circle cx="292.0" cy="834.5" r="2.8" fill="#b8dfe6"/><circle cx="314.0" cy="829.7" r="2.8" fill="#b8dfe6"/><circle cx="336.1" cy="799.3" r="2.8" fill="#b8dfe6"/><circle cx="93.5" cy="883.7" r="2.8" fill="#c5b9df"/><circle cx="115.5" cy="878.1" r="2.8" fill="#c5b9df"/><circle cx="137.6" cy="888.4" r="2.8" fill="#c5b9df"/><circle cx="159.7" cy="875.6" r="2.8" fill="#c5b9df"/><circle cx="181.7" cy="879.4" r="2.8" fill="#c5b9df"/><circle cx="203.8" cy="885.9" r="2.8" fill="#c5b9df"/><circle cx="225.8" cy="879.9" r="2.8" fill="#c5b9df"/><circle cx="247.8" cy="884.2" r="2.8" fill="#c5b9df"/><circle cx="269.9" cy="867.8" r="2.8" fill="#c5b9df"/><circle cx="292.0" cy="881.6" r="2.8" fill="#c5b9df"/><circle cx="314.0" cy="884.4" r="2.8" fill="#c5b9df"/><circle cx="336.1" cy="882.9" r="2.8" fill="#c5b9df"/></g><circle cx="143.6" cy="763" r="3.7" fill="#b8dfe6"/><circle cx="199.2" cy="763" r="3.7" fill="#c5b9df"/><rect x="462.5" y="762" width="8" height="7.6" fill="#b8dfe6"/><rect x="518" y="762" width="8" height="7.6" fill="#fdd0b3"/><rect x="505.7" y="776" width="1" height="133.5" fill="#d0d0d0"/><rect x="579.3" y="776" width="1" height="133.5" fill="#d0d0d0"/><rect x="652.9" y="776" width="1" height="133.5" fill="#d0d0d0"/><rect x="432.6" y="783.1" width="171.5" height="4.6" rx="0.9" fill="#b8dfe6"/><rect x="432.6" y="788.8" width="199.1" height="4.6" rx="0.9" fill="#fdd0b3"/><rect x="432.6" y="800.7" width="48.4" height="4.6" rx="0.9" fill="#b8dfe6"/><rect x="432.6" y="806.4" width="54.1" height="4.6" rx="0.9" fill="#fdd0b3"/><rect x="432.6" y="818.6" width="12.1" height="4.6" rx="0.9" fill="#b8dfe6"/><rect x="432.6" y="824.3" width="11.8" height="4.6" rx="0.9" fill="#fdd0b3"/><rect x="432.6" y="836.5" width="15.6" height="4.6" rx="0.9" fill="#b8dfe6"/><rect x="432.6" y="842.2" width="14.4" height="4.6" rx="0.9" fill="#fdd0b3"/><rect x="432.6" y="855.9" width="63.7" height="4.6" rx="0.9" fill="#b8dfe6"/><rect x="432.6" y="861.6" width="67.2" height="4.6" rx="0.9" fill="#fdd0b3"/><rect x="432.6" y="873.8" width="11.2" height="4.6" rx="0.9" fill="#b8dfe6"/><rect x="432.6" y="879.5" width="14.4" height="4.6" rx="0.9" fill="#fdd0b3"/><rect x="432.6" y="891.9" width="16.7" height="4.6" rx="0.9" fill="#b8dfe6"/><rect x="432.6" y="897.6" width="16.5" height="4.6" rx="0.9" fill="#fdd0b3"/><rect x="432.1" y="776" width="1" height="133.5" fill="#4a4a4a"/><rect x="722" y="764.0" width="248" height="1" fill="#dcdcdc"/><rect x="722" y="799.9" width="248" height="1" fill="#dcdcdc"/><rect x="722" y="835.7" width="248" height="1" fill="#dcdcdc"/><rect x="722" y="872.6" width="248" height="1" fill="#dcdcdc"/><rect x="729.4" y="823.5" width="12.6" height="85.3" fill="#fdd0b3"/><rect x="749.4" y="780.2" width="12.6" height="128.6" fill="#fdd0b3"/><rect x="769.5" y="793.4" width="12.6" height="115.4" fill="#fdd0b3"/><rect x="789.5" y="809.1" width="12.6" height="99.7" fill="#fdd0b3"/><rect x="809.6" y="798.2" width="12.6" height="110.6" fill="#fdd0b3"/><rect x="829.6" y="834.3" width="12.6" height="74.5" fill="#fdd0b3"/><rect x="849.6" y="801.8" width="12.6" height="107.0" fill="#fdd0b3"/><rect x="869.7" y="792.8" width="12.6" height="116.0" fill="#fdd0b3"/><rect x="889.7" y="828.9" width="12.6" height="79.9" fill="#fdd0b3"/><rect x="909.8" y="785.9" width="12.6" height="122.9" fill="#fdd0b3"/><rect x="929.8" y="826.4" width="12.6" height="82.4" fill="#fdd0b3"/><rect x="949.8" y="837.9" width="12.6" height="70.9" fill="#fdd0b3"/><rect x="722" y="908" width="248" height="1.9" fill="#a2a2a2"/><path d="M1144.90,761.50A79.3,79.3 0 0 1 1186.08,773.03L1165.41,807.04A39.5,39.5 0 0 0 1144.90,801.30Z" fill="#b8dfe6" stroke="#b8dfe6" stroke-width="0.35"/><path d="M1186.08,773.03A79.3,79.3 0 0 1 1196.55,780.63L1170.63,810.83A39.5,39.5 0 0 0 1165.41,807.04Z" fill="#c5b9df" stroke="#c5b9df" stroke-width="0.35"/><path d="M1196.55,780.63A79.3,79.3 0 0 1 1216.40,806.51L1180.52,823.72A39.5,39.5 0 0 0 1170.63,810.83Z" fill="#c3ebc0" stroke="#c3ebc0" stroke-width="0.35"/><path d="M1216.40,806.51A79.3,79.3 0 0 1 1218.41,811.06L1181.52,825.99A39.5,39.5 0 0 0 1180.52,823.72Z" fill="#fdd0b3" stroke="#fdd0b3" stroke-width="0.35"/><path d="M1218.41,811.06A79.3,79.3 0 0 1 1224.00,835.20L1184.30,838.01A39.5,39.5 0 0 0 1181.52,825.99Z" fill="#b8dfe6" stroke="#b8dfe6" stroke-width="0.35"/><path d="M1224.00,835.20A79.3,79.3 0 0 1 1204.50,893.11L1174.59,866.85A39.5,39.5 0 0 0 1184.30,838.01Z" fill="#a091cb" stroke="#a091cb" stroke-width="0.35"/><path d="M1204.50,893.11A79.3,79.3 0 0 1 1138.19,919.82L1141.56,880.16A39.5,39.5 0 0 0 1174.59,866.85Z" fill="#f9edc6" stroke="#f9edc6" stroke-width="0.35"/><path d="M1138.19,919.82A79.3,79.3 0 0 1 1110.05,912.03L1127.54,876.28A39.5,39.5 0 0 0 1141.56,880.16Z" fill="#c3ebc0" stroke="#c3ebc0" stroke-width="0.35"/><path d="M1110.05,912.03A79.3,79.3 0 0 1 1079.22,885.23L1112.18,862.93A39.5,39.5 0 0 0 1127.54,876.28Z" fill="#f9edc6" stroke="#f9edc6" stroke-width="0.35"/><path d="M1079.22,885.23A79.3,79.3 0 0 1 1066.89,855.03L1106.04,847.89A39.5,39.5 0 0 0 1112.18,862.93Z" fill="#fddfcc" stroke="#fddfcc" stroke-width="0.35"/><path d="M1066.89,855.03A79.3,79.3 0 0 1 1076.69,800.36L1110.92,820.66A39.5,39.5 0 0 0 1106.04,847.89Z" fill="#fbb9c6" stroke="#fbb9c6" stroke-width="0.35"/><path d="M1076.69,800.36A79.3,79.3 0 0 1 1086.12,787.57L1115.62,814.28A39.5,39.5 0 0 0 1110.92,820.66Z" fill="#c5b9df" stroke="#c5b9df" stroke-width="0.35"/><path d="M1086.12,787.57A79.3,79.3 0 0 1 1092.50,781.28L1118.80,811.15A39.5,39.5 0 0 0 1115.62,814.28Z" fill="#dceff3" stroke="#dceff3" stroke-width="0.35"/><path d="M1092.50,781.28A79.3,79.3 0 0 1 1144.90,761.50L1144.90,801.30A39.5,39.5 0 0 0 1118.80,811.15Z" fill="#fbb9c6" stroke="#fbb9c6" stroke-width="0.35"/><path d="M1004.7,769.5L1119.2,769.5" fill="none" stroke="#858585" stroke-width="0.8"/><circle cx="1119.2" cy="769.5" r="1.1" fill="#858585"/><path d="M1004.7,787.1L1084,787.1L1092.5,786.4" fill="none" stroke="#858585" stroke-width="0.8"/><circle cx="1092.5" cy="786.4" r="1.1" fill="#858585"/><path d="M1004.7,804.4L1062.6,804.4L1085.1,795.3" fill="none" stroke="#858585" stroke-width="0.8"/><circle cx="1085.1" cy="795.3" r="1.1" fill="#858585"/><path d="M1004.7,826.6L1071.4,826.6" fill="none" stroke="#858585" stroke-width="0.8"/><circle cx="1071.4" cy="826.6" r="1.1" fill="#858585"/><path d="M1004.7,869.6L1075.8,869.6" fill="none" stroke="#858585" stroke-width="0.8"/><circle cx="1075.8" cy="869.6" r="1.1" fill="#858585"/><path d="M1004.7,894.4L1062.6,894.4L1095.6,897.7" fill="none" stroke="#858585" stroke-width="0.8"/><circle cx="1095.6" cy="897.7" r="1.1" fill="#858585"/><path d="M1004.7,911.4L1062.6,911.4L1125,913.3" fill="none" stroke="#858585" stroke-width="0.8"/><circle cx="1125" cy="913.3" r="1.1" fill="#858585"/><path d="M1285.4,769.5L1227.5,769.5L1165.1,767.6" fill="none" stroke="#858585" stroke-width="0.8"/><circle cx="1165.1" cy="767.6" r="1.1" fill="#858585"/><path d="M1285.4,787.2L1227.5,787.2L1189.4,779.2" fill="none" stroke="#858585" stroke-width="0.8"/><circle cx="1189.4" cy="779.2" r="1.1" fill="#858585"/><path d="M1285.4,804.4L1227.5,804.4L1204.6,794.4" fill="none" stroke="#858585" stroke-width="0.8"/><circle cx="1204.6" cy="794.4" r="1.1" fill="#858585"/><path d="M1285.4,821.5L1227.5,821.5L1213.9,809.7" fill="none" stroke="#858585" stroke-width="0.8"/><circle cx="1213.9" cy="809.7" r="1.1" fill="#858585"/><path d="M1285.4,838.7L1227.5,838.7L1218.3,822.9" fill="none" stroke="#858585" stroke-width="0.8"/><circle cx="1218.3" cy="822.9" r="1.1" fill="#858585"/><path d="M1285.4,865.4L1216.1,865.4" fill="none" stroke="#858585" stroke-width="0.8"/><circle cx="1216.1" cy="865.4" r="1.1" fill="#858585"/><path d="M1285.4,911L1173,911" fill="none" stroke="#858585" stroke-width="0.8"/><circle cx="1173" cy="911" r="1.1" fill="#858585"/></svg>
<div class="" style="left:45px;top:950px;width:301px;height:80px;background:#fdf6f2;"></div>
<div class="" style="left:45px;top:950px;width:301px;height:32px;background:#b8dfe6;"></div>
<div class="" style="left:45px;top:982px;width:301px;height:16px;background:#c5b9df;"></div>
<div class="t c" style="left:-503.5px;width:1400px;top:960.5px;font-size:8.4px;font-weight:bold;letter-spacing:2.35px;color:#2b2646;line-height:12px;">INCOMES OVERVIEW</div>
<div class="t c" style="left:-603.5px;width:1400px;top:984.5px;font-size:8.4px;font-weight:bold;letter-spacing:2.15px;color:#2b2646;line-height:12px;">MONTH</div>
<div class="t c" style="left:-520px;width:1400px;top:984.5px;font-size:8.4px;font-weight:bold;letter-spacing:2.15px;color:#2b2646;line-height:12px;">ACTUAL</div>
<div class="t c" style="left:-386.5px;width:1400px;top:984.5px;font-size:8.4px;font-weight:bold;letter-spacing:2.15px;color:#2b2646;line-height:12px;">BUDGET</div>
<div class="t" style="left:48px;top:1000.8px;font-size:8.6px;color:#2f2c48;line-height:12px;letter-spacing:-0.15px;">January</div>
<div class="t" style="left:151.5px;top:1000.8px;font-size:8.6px;color:#35484a;line-height:12px;letter-spacing:-0.35px;">$</div>
<div class="t r" style="left:10px;width:200px;top:1000.8px;font-size:8.6px;color:#35484a;line-height:12px;letter-spacing:-0.35px;">10,368.00</div>
<div class="" style="left:214.6px;top:1000.0px;width:57.1875px;height:12.999999999999998px;background:#f9edc6;"></div>
<div class="t" style="left:284.5px;top:1000.8px;font-size:8.6px;color:#35484a;line-height:12px;letter-spacing:-0.35px;">$</div>
<div class="t r" style="left:143.3px;width:200px;top:1000.8px;font-size:8.6px;color:#35484a;line-height:12px;letter-spacing:-0.35px;">11,270.00</div>
<div class="t" style="left:48px;top:1017.1999999999999px;font-size:8.6px;color:#2f2c48;line-height:12px;letter-spacing:-0.15px;">February</div>
<div class="t" style="left:151.5px;top:1017.1999999999999px;font-size:8.6px;color:#35484a;line-height:12px;letter-spacing:-0.35px;">$</div>
<div class="t r" style="left:10px;width:200px;top:1017.1999999999999px;font-size:8.6px;color:#35484a;line-height:12px;letter-spacing:-0.35px;">11,200.00</div>
<div class="" style="left:214.6px;top:1016.4px;width:61.5625px;height:12.999999999999998px;background:#f9edc6;"></div>
<div class="t" style="left:284.5px;top:1017.1999999999999px;font-size:8.6px;color:#35484a;line-height:12px;letter-spacing:-0.35px;">$</div>
<div class="t r" style="left:143.3px;width:200px;top:1017.1999999999999px;font-size:8.6px;color:#35484a;line-height:12px;letter-spacing:-0.35px;">11,270.00</div>
<div class="" style="left:45px;top:950px;width:301px;height:90px;border:1px solid #46504e;border-bottom:none;"></div>
<div class="" style="left:362px;top:950px;width:301px;height:80px;background:#fdf6f2;"></div>
<div class="" style="left:362px;top:950px;width:301px;height:32px;background:#c5b9df;"></div>
<div class="" style="left:362px;top:982px;width:301px;height:16px;background:#b8dfe6;"></div>
<div class="t c" style="left:-186.5px;width:1400px;top:960.5px;font-size:8.4px;font-weight:bold;letter-spacing:2.35px;color:#2b2646;line-height:12px;">EXPENSES OVERVIEW</div>
<div class="t c" style="left:-286.5px;width:1400px;top:984.5px;font-size:8.4px;font-weight:bold;letter-spacing:2.15px;color:#2b2646;line-height:12px;">MONTH</div>
<div class="t c" style="left:-203px;width:1400px;top:984.5px;font-size:8.4px;font-weight:bold;letter-spacing:2.15px;color:#2b2646;line-height:12px;">ACTUAL</div>
<div class="t c" style="left:-69.5px;width:1400px;top:984.5px;font-size:8.4px;font-weight:bold;letter-spacing:2.15px;color:#2b2646;line-height:12px;">BUDGET</div>
<div class="t" style="left:365px;top:1000.8px;font-size:8.6px;color:#2f2c48;line-height:12px;letter-spacing:-0.15px;">January</div>
<div class="t" style="left:468.5px;top:1000.8px;font-size:8.6px;color:#35484a;line-height:12px;letter-spacing:-0.35px;">$</div>
<div class="t r" style="left:327px;width:200px;top:1000.8px;font-size:8.6px;color:#35484a;line-height:12px;letter-spacing:-0.35px;">3,021.00</div>
<div class="" style="left:531.6px;top:1000.0px;width:57.5px;height:12.999999999999998px;background:#f9edc6;"></div>
<div class="t" style="left:601.5px;top:1000.8px;font-size:8.6px;color:#35484a;line-height:12px;letter-spacing:-0.35px;">$</div>
<div class="t r" style="left:460.29999999999995px;width:200px;top:1000.8px;font-size:8.6px;color:#35484a;line-height:12px;letter-spacing:-0.35px;">3,280.00</div>
<div class="t" style="left:365px;top:1017.1999999999999px;font-size:8.6px;color:#2f2c48;line-height:12px;letter-spacing:-0.15px;">February</div>
<div class="t" style="left:468.5px;top:1017.1999999999999px;font-size:8.6px;color:#35484a;line-height:12px;letter-spacing:-0.35px;">$</div>
<div class="t r" style="left:327px;width:200px;top:1017.1999999999999px;font-size:8.6px;color:#35484a;line-height:12px;letter-spacing:-0.35px;">3,675.00</div>
<div class="" style="left:531.6px;top:1016.4px;width:62.5px;height:12.999999999999998px;background:#fbb9c6;"></div>
<div class="t" style="left:601.5px;top:1017.1999999999999px;font-size:8.6px;color:#35484a;line-height:12px;letter-spacing:-0.35px;">$</div>
<div class="t r" style="left:460.29999999999995px;width:200px;top:1017.1999999999999px;font-size:8.6px;color:#35484a;line-height:12px;letter-spacing:-0.35px;">3,280.00</div>
<div class="" style="left:362px;top:950px;width:301px;height:90px;border:1px solid #46504e;border-bottom:none;"></div>
<div class="" style="left:678.5px;top:950px;width:301px;height:80px;background:#fdf6f2;"></div>
<div class="" style="left:678.5px;top:950px;width:301px;height:32px;background:#c5b9df;"></div>
<div class="" style="left:678.5px;top:982px;width:301px;height:16px;background:#b8dfe6;"></div>
<div class="t c" style="left:130.0px;width:1400px;top:960.5px;font-size:8.4px;font-weight:bold;letter-spacing:2.35px;color:#2b2646;line-height:12px;">SUBSCRIPTIONS &amp; BILLS</div>
<div class="t c" style="left:30.0px;width:1400px;top:984.5px;font-size:8.4px;font-weight:bold;letter-spacing:2.15px;color:#2b2646;line-height:12px;">MONTH</div>
<div class="t c" style="left:113.5px;width:1400px;top:984.5px;font-size:8.4px;font-weight:bold;letter-spacing:2.15px;color:#2b2646;line-height:12px;">ACTUAL</div>
<div class="t c" style="left:247.0px;width:1400px;top:984.5px;font-size:8.4px;font-weight:bold;letter-spacing:2.15px;color:#2b2646;line-height:12px;">BUDGET</div>
<div class="t" style="left:681.5px;top:1000.8px;font-size:8.6px;color:#2f2c48;line-height:12px;letter-spacing:-0.15px;">January</div>
<div class="t" style="left:785.0px;top:1000.8px;font-size:8.6px;color:#35484a;line-height:12px;letter-spacing:-0.35px;">$</div>
<div class="t r" style="left:643.5px;width:200px;top:1000.8px;font-size:8.6px;color:#35484a;line-height:12px;letter-spacing:-0.35px;">559.95</div>
<div class="" style="left:848.1px;top:1000.0px;width:54.375px;height:12.999999999999998px;background:#f9edc6;"></div>
<div class="t" style="left:918.0px;top:1000.8px;font-size:8.6px;color:#35484a;line-height:12px;letter-spacing:-0.35px;">$</div>
<div class="t r" style="left:776.8px;width:200px;top:1000.8px;font-size:8.6px;color:#35484a;line-height:12px;letter-spacing:-0.35px;">640.98</div>
<div class="t" style="left:681.5px;top:1017.1999999999999px;font-size:8.6px;color:#2f2c48;line-height:12px;letter-spacing:-0.15px;">February</div>
<div class="t" style="left:785.0px;top:1017.1999999999999px;font-size:8.6px;color:#35484a;line-height:12px;letter-spacing:-0.35px;">$</div>
<div class="t r" style="left:643.5px;width:200px;top:1017.1999999999999px;font-size:8.6px;color:#35484a;line-height:12px;letter-spacing:-0.35px;">476.00</div>
<div class="" style="left:848.1px;top:1016.4px;width:46.25px;height:12.999999999999998px;background:#c3ebc0;"></div>
<div class="t" style="left:918.0px;top:1017.1999999999999px;font-size:8.6px;color:#35484a;line-height:12px;letter-spacing:-0.35px;">$</div>
<div class="t r" style="left:776.8px;width:200px;top:1017.1999999999999px;font-size:8.6px;color:#35484a;line-height:12px;letter-spacing:-0.35px;">640.98</div>
<div class="" style="left:678.5px;top:950px;width:301px;height:90px;border:1px solid #46504e;border-bottom:none;"></div>
<div class="" style="left:995.5px;top:950px;width:301px;height:80px;background:#fdf6f2;"></div>
<div class="" style="left:995.5px;top:950px;width:301px;height:32px;background:#c5b9df;"></div>
<div class="" style="left:995.5px;top:982px;width:301px;height:16px;background:#b8dfe6;"></div>
<div class="t c" style="left:447.0px;width:1400px;top:960.5px;font-size:8.4px;font-weight:bold;letter-spacing:2.35px;color:#2b2646;line-height:12px;">DEBTS &amp; LOANS</div>
<div class="t c" style="left:347.0px;width:1400px;top:984.5px;font-size:8.4px;font-weight:bold;letter-spacing:2.15px;color:#2b2646;line-height:12px;">MONTH</div>
<div class="t c" style="left:430.5px;width:1400px;top:984.5px;font-size:8.4px;font-weight:bold;letter-spacing:2.15px;color:#2b2646;line-height:12px;">ACTUAL</div>
<div class="t c" style="left:564.0px;width:1400px;top:984.5px;font-size:8.4px;font-weight:bold;letter-spacing:2.15px;color:#2b2646;line-height:12px;">BUDGET</div>
<div class="t" style="left:998.5px;top:1000.8px;font-size:8.6px;color:#2f2c48;line-height:12px;letter-spacing:-0.15px;">January</div>
<div class="t" style="left:1102.0px;top:1000.8px;font-size:8.6px;color:#35484a;line-height:12px;letter-spacing:-0.35px;">$</div>
<div class="t r" style="left:960.5px;width:200px;top:1000.8px;font-size:8.6px;color:#35484a;line-height:12px;letter-spacing:-0.35px;">925.00</div>
<div class="" style="left:1165.1px;top:1000.0px;width:54.0625px;height:12.999999999999998px;background:#f9edc6;"></div>
<div class="t" style="left:1235.0px;top:1000.8px;font-size:8.6px;color:#35484a;line-height:12px;letter-spacing:-0.35px;">$</div>
<div class="t r" style="left:1093.8px;width:200px;top:1000.8px;font-size:8.6px;color:#35484a;line-height:12px;letter-spacing:-0.35px;">1,065.00</div>
<div class="t" style="left:998.5px;top:1017.1999999999999px;font-size:8.6px;color:#2f2c48;line-height:12px;letter-spacing:-0.15px;">February</div>
<div class="t" style="left:1102.0px;top:1017.1999999999999px;font-size:8.6px;color:#35484a;line-height:12px;letter-spacing:-0.35px;">$</div>
<div class="t r" style="left:960.5px;width:200px;top:1017.1999999999999px;font-size:8.6px;color:#35484a;line-height:12px;letter-spacing:-0.35px;">925.00</div>
<div class="" style="left:1165.1px;top:1016.4px;width:54.0625px;height:12.999999999999998px;background:#f9edc6;"></div>
<div class="t" style="left:1235.0px;top:1017.1999999999999px;font-size:8.6px;color:#35484a;line-height:12px;letter-spacing:-0.35px;">$</div>
<div class="t r" style="left:1093.8px;width:200px;top:1017.1999999999999px;font-size:8.6px;color:#35484a;line-height:12px;letter-spacing:-0.35px;">1,065.00</div>
<div class="" style="left:995.5px;top:950px;width:301px;height:90px;border:1px solid #46504e;border-bottom:none;"></div>
<svg width="1350" height="1025"><path d="M242.0,990.7L249.1,990.7M246.7,988.3000000000001L249.3,990.7L246.7,993.1" fill="none" stroke="#2b2646" stroke-width="1.05" stroke-linecap="round" stroke-linejoin="round"/><line x1="45" x2="346" y1="1014.4" y2="1014.4" stroke="#3f5a4e" stroke-width="0.8" stroke-dasharray="1 1" opacity="0.8"/><line x1="45" x2="346" y1="1030.8" y2="1030.8" stroke="#3f5a4e" stroke-width="0.8" stroke-dasharray="1 1" opacity="0.8"/><line x1="145.4" x2="145.4" y1="998" y2="1025" stroke="#3f5a4e" stroke-width="0.9" stroke-dasharray="1 1" opacity="0.85"/><line x1="212.5" x2="212.5" y1="998" y2="1025" stroke="#3f5a4e" stroke-width="0.9" stroke-dasharray="1 1" opacity="0.85"/><line x1="278.6" x2="278.6" y1="998" y2="1025" stroke="#3f5a4e" stroke-width="0.9" stroke-dasharray="1 1" opacity="0.85"/><path d="M559.0,990.7L566.1,990.7M563.7,988.3000000000001L566.3,990.7L563.7,993.1" fill="none" stroke="#2b2646" stroke-width="1.05" stroke-linecap="round" stroke-linejoin="round"/><line x1="362" x2="663" y1="1014.4" y2="1014.4" stroke="#3f5a4e" stroke-width="0.8" stroke-dasharray="1 1" opacity="0.8"/><line x1="362" x2="663" y1="1030.8" y2="1030.8" stroke="#3f5a4e" stroke-width="0.8" stroke-dasharray="1 1" opacity="0.8"/><line x1="462.4" x2="462.4" y1="998" y2="1025" stroke="#3f5a4e" stroke-width="0.9" stroke-dasharray="1 1" opacity="0.85"/><line x1="529.5" x2="529.5" y1="998" y2="1025" stroke="#3f5a4e" stroke-width="0.9" stroke-dasharray="1 1" opacity="0.85"/><line x1="595.6" x2="595.6" y1="998" y2="1025" stroke="#3f5a4e" stroke-width="0.9" stroke-dasharray="1 1" opacity="0.85"/><path d="M875.5,990.7L882.6,990.7M880.2,988.3000000000001L882.8,990.7L880.2,993.1" fill="none" stroke="#2b2646" stroke-width="1.05" stroke-linecap="round" stroke-linejoin="round"/><line x1="678.5" x2="979.5" y1="1014.4" y2="1014.4" stroke="#3f5a4e" stroke-width="0.8" stroke-dasharray="1 1" opacity="0.8"/><line x1="678.5" x2="979.5" y1="1030.8" y2="1030.8" stroke="#3f5a4e" stroke-width="0.8" stroke-dasharray="1 1" opacity="0.8"/><line x1="778.9" x2="778.9" y1="998" y2="1025" stroke="#3f5a4e" stroke-width="0.9" stroke-dasharray="1 1" opacity="0.85"/><line x1="846.0" x2="846.0" y1="998" y2="1025" stroke="#3f5a4e" stroke-width="0.9" stroke-dasharray="1 1" opacity="0.85"/><line x1="912.1" x2="912.1" y1="998" y2="1025" stroke="#3f5a4e" stroke-width="0.9" stroke-dasharray="1 1" opacity="0.85"/><path d="M1192.5,990.7L1199.6,990.7M1197.2,988.3000000000001L1199.8,990.7L1197.2,993.1" fill="none" stroke="#2b2646" stroke-width="1.05" stroke-linecap="round" stroke-linejoin="round"/><line x1="995.5" x2="1296.5" y1="1014.4" y2="1014.4" stroke="#3f5a4e" stroke-width="0.8" stroke-dasharray="1 1" opacity="0.8"/><line x1="995.5" x2="1296.5" y1="1030.8" y2="1030.8" stroke="#3f5a4e" stroke-width="0.8" stroke-dasharray="1 1" opacity="0.8"/><line x1="1095.9" x2="1095.9" y1="998" y2="1025" stroke="#3f5a4e" stroke-width="0.9" stroke-dasharray="1 1" opacity="0.85"/><line x1="1163.0" x2="1163.0" y1="998" y2="1025" stroke="#3f5a4e" stroke-width="0.9" stroke-dasharray="1 1" opacity="0.85"/><line x1="1229.1" x2="1229.1" y1="998" y2="1025" stroke="#3f5a4e" stroke-width="0.9" stroke-dasharray="1 1" opacity="0.85"/></svg>
<div class="" style="left:0px;top:1023px;width:1350px;height:2px;background:#000;"></div>
</body></html>
